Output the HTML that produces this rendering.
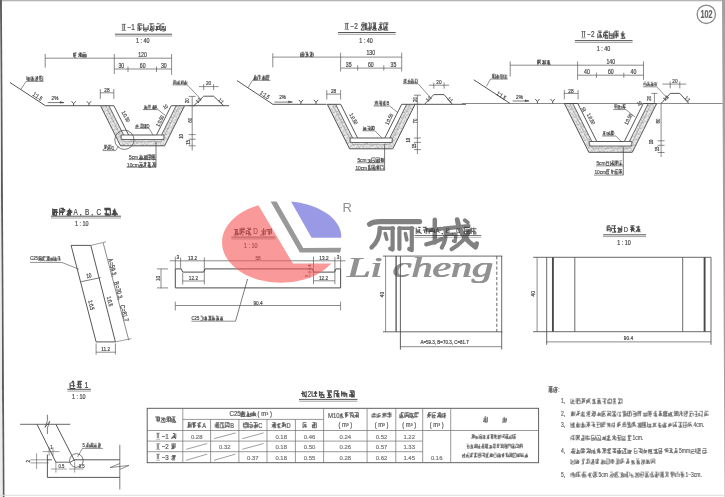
<!DOCTYPE html>
<html><head><meta charset="utf-8"><title>drawing</title>
<style>html,body{margin:0;padding:0;background:#fff;}body{width:725px;height:497px;overflow:hidden;font-family:"Liberation Sans",sans-serif;}svg{display:block}</style>
</head><body>
<svg width="725" height="497" viewBox="0 0 725 497">
<defs>
<pattern id="tex" width="6" height="6" patternUnits="userSpaceOnUse" patternTransform="rotate(20)">
<rect width="6" height="6" fill="#e8e8e8"/>
<path d="M0.5 1 L2.2 2 M3.2 3.8 L5 3 M1 4.6 L2.4 5.4 M4.2 0.4 L5.4 1.6 M2.6 2.8 L3 3.6" stroke="#777" stroke-width="0.7"/>
</pattern>
<filter id="soft" x="-2%" y="-2%" width="104%" height="104%"><feGaussianBlur stdDeviation="0.62"/></filter>
</defs>
<rect x="0" y="0" width="725" height="497" fill="#fff"/>
<rect x="0" y="0" width="725" height="1.3" fill="#b4b4b4"/>
<path d="M0 0 L1.9 0 L4.5 497 L2.6 497 Z" fill="#5c5c5c"/><path d="M0 6 L2.6 497 L0 497 Z" fill="#ececec"/>
<path d="M722 0 L725 0 L725 200 L726 497 L724.6 497 Z" fill="#a0a0a0"/>
<rect x="0" y="494.8" width="725" height="1.0" fill="#dcdcdc"/>
<g filter="url(#soft)">
<circle cx="706.3" cy="14.3" r="9.2" fill="none" stroke="#8a8a8a" stroke-width="1.3"/>
<text transform="translate(706.4 14.3) scale(0.7 1)" font-size="10.24" fill="#666" text-anchor="middle" dominant-baseline="central" font-family="'Liberation Sans', sans-serif" font-weight="bold" font-style="normal" stroke="#666" stroke-width="0.22" >102</text>
<text transform="translate(122.0 27.4) scale(0.78 1)" font-size="8.19" fill="#484848" text-anchor="start" dominant-baseline="central" font-family="'Liberation Sans', sans-serif" font-weight="normal" font-style="normal" stroke="#484848" stroke-width="0.22" >II</text>
<line x1="121.6" y1="24.3" x2="126.0" y2="24.3" stroke="#484848" stroke-width="0.55" />
<line x1="121.6" y1="30.5" x2="126.0" y2="30.5" stroke="#484848" stroke-width="0.55" />
<text transform="translate(127.6 27.4) scale(0.78 1)" font-size="8.19" fill="#484848" text-anchor="start" dominant-baseline="central" font-family="'Liberation Sans', sans-serif" font-weight="normal" font-style="normal" stroke="#484848" stroke-width="0.22" >−1</text>
<path d="M138.0 23.8H141.8M138.0 25.2H142.5M138.0 28.1H142.5M139.6 29.6H141.4M139.5 26.0V31.0M138.0 23.8V31.0M143.7 28.1H148.2M143.7 29.6H148.2M144.4 31.0H147.1M148.2 25.2V29.9M143.7 23.8V31.0M149.4 23.8H153.9M151.0 26.7H152.8M150.1 29.6H152.8M151.0 31.0H153.2M150.9 23.8V31.0M153.9 25.2V29.9M151.7 26.7L149.4 31.0M151.7 26.7L153.9 31.0M156.7 23.8H159.6M155.8 26.7H159.6M156.7 28.1H158.5M155.1 29.6H159.6M159.6 25.2V29.9M157.3 26.0V29.9M156.6 26.0V31.0M161.5 23.8H164.2M161.5 26.7H164.2M161.5 29.6H165.3M162.4 31.0H164.6M165.3 26.0V31.0M160.8 23.8V31.0M163.1 26.7L160.8 31.0M163.1 26.7L165.3 31.0" stroke="#4a4a4a" stroke-width="0.94" fill="none"/>
<line x1="114.9" y1="34.2" x2="172.0" y2="34.2" stroke="#444444" stroke-width="0.9" />
<line x1="114.9" y1="36.0" x2="172.0" y2="36.0" stroke="#444444" stroke-width="0.5" />
<text transform="translate(142.8 39.8) scale(0.78 1)" font-size="6.91" fill="#484848" text-anchor="middle" dominant-baseline="central" font-family="'Liberation Sans', sans-serif" font-weight="normal" font-style="normal" stroke="#484848" stroke-width="0.22" >1 : 40</text>
<line x1="45.2" y1="58.2" x2="171.6" y2="58.2" stroke="#5a5a5a" stroke-width="0.7" />
<line x1="45.2" y1="54.0" x2="45.2" y2="67.7" stroke="#5a5a5a" stroke-width="0.7" />
<line x1="114.3" y1="54.0" x2="114.3" y2="74.0" stroke="#5a5a5a" stroke-width="0.7" />
<line x1="171.6" y1="54.0" x2="171.6" y2="75.0" stroke="#5a5a5a" stroke-width="0.7" />
<line x1="114.3" y1="69.0" x2="171.6" y2="69.0" stroke="#5a5a5a" stroke-width="0.7" />
<line x1="128.0" y1="66.5" x2="128.0" y2="72.0" stroke="#5a5a5a" stroke-width="0.7" />
<line x1="156.5" y1="66.5" x2="156.5" y2="72.0" stroke="#5a5a5a" stroke-width="0.7" />
<text transform="translate(142.5 54.6) scale(0.78 1)" font-size="6.66" fill="#484848" text-anchor="middle" dominant-baseline="central" font-family="'Liberation Sans', sans-serif" font-weight="normal" font-style="normal" stroke="#484848" stroke-width="0.22" >120</text>
<text transform="translate(121.3 65.6) scale(0.78 1)" font-size="6.66" fill="#484848" text-anchor="middle" dominant-baseline="central" font-family="'Liberation Sans', sans-serif" font-weight="normal" font-style="normal" stroke="#484848" stroke-width="0.22" >30</text>
<text transform="translate(142.7 65.6) scale(0.78 1)" font-size="6.66" fill="#484848" text-anchor="middle" dominant-baseline="central" font-family="'Liberation Sans', sans-serif" font-weight="normal" font-style="normal" stroke="#484848" stroke-width="0.22" >60</text>
<text transform="translate(163.8 65.6) scale(0.78 1)" font-size="6.66" fill="#484848" text-anchor="middle" dominant-baseline="central" font-family="'Liberation Sans', sans-serif" font-weight="normal" font-style="normal" stroke="#484848" stroke-width="0.22" >30</text>
<path d="M74.7 52.8H76.6M73.5 53.7H76.2M74.0 55.4H76.2M74.0 57.2H76.2M74.7 52.8V57.2M73.5 52.8V56.5M75.3 54.6L73.5 57.2M79.3 52.8H81.2M78.6 53.7H81.7M78.1 54.6H80.8M79.3 55.4H80.8M79.3 56.3H80.8M80.5 52.8V57.2M81.7 52.8V57.2M79.9 54.6L78.1 57.2M79.9 54.6L81.7 57.2M82.7 52.8H85.8M82.7 54.6H86.3M82.7 55.4H85.4M82.7 56.3H85.8M83.2 57.2H85.8M82.7 54.1V57.2M86.3 54.1V57.2M84.5 54.6L82.7 57.2M84.5 54.6L86.3 57.2" stroke="#4a4a4a" stroke-width="0.76" fill="none"/>
<path d="M10.0 82.5 L45.4 105.7 L100.5 105.7" stroke="#444444" stroke-width="0.9" fill="none" />
<line x1="184.6" y1="105.7" x2="229.0" y2="105.7" stroke="#444444" stroke-width="0.9" />
<path d="M26.8 77.8H30.2M26.8 78.8H29.7M26.8 79.7H30.2M27.3 80.6H30.2M28.5 76.9V80.6M30.2 76.9V79.9M26.8 76.0V79.9M31.0 76.9H33.5M31.5 78.8H34.4M31.0 80.6H33.9M32.7 76.9V80.6M32.1 76.9V80.6M32.7 77.8L31.0 80.6M32.7 77.8L34.4 80.6M35.2 76.9H37.7M35.7 77.8H38.6M35.2 78.8H37.7M35.2 80.6H37.7M37.5 76.0V79.9M36.9 77.4V80.6M36.9 77.8L35.2 80.6M39.4 76.0H41.9M39.4 76.9H41.9M39.9 80.6H42.8M42.8 76.0V79.9M40.5 76.0V79.9M39.4 76.0V80.6M41.1 77.8L42.8 80.6" stroke="#4a4a4a" stroke-width="0.69" fill="none"/>
<line x1="26.0" y1="81.4" x2="43.6" y2="81.4" stroke="#444444" stroke-width="0.6" />
<line x1="26.0" y1="81.4" x2="20.9" y2="89.5" stroke="#444444" stroke-width="0.6" />
<text transform="translate(37.6 96.2) rotate(34) scale(0.78 1)" font-size="5.89" fill="#484848" text-anchor="middle" dominant-baseline="central" font-family="'Liberation Sans', sans-serif" font-weight="normal" font-style="normal" stroke="#484848" stroke-width="0.22" >1:1.5</text>
<text transform="translate(55.0 97.6) scale(0.78 1)" font-size="6.14" fill="#484848" text-anchor="middle" dominant-baseline="central" font-family="'Liberation Sans', sans-serif" font-weight="normal" font-style="normal" stroke="#484848" stroke-width="0.22" >2%</text>
<line x1="47.7" y1="102.6" x2="64.0" y2="102.6" stroke="#444444" stroke-width="0.7" />
<path d="M64.0 102.6 L60.0 101.4 L60.0 103.2 Z" stroke="#444444" stroke-width="0.3" fill="#444444" />
<path d="M71.5 101.3 L73.6 103.7 L75.7 101.3" stroke="#444444" stroke-width="0.9" fill="none" />
<line x1="73.6" y1="103.7" x2="73.6" y2="105.7" stroke="#444444" stroke-width="0.9" />
<path d="M86.9 101.3 L89.0 103.7 L91.1 101.3" stroke="#444444" stroke-width="0.9" fill="none" />
<line x1="89.0" y1="103.7" x2="89.0" y2="105.7" stroke="#444444" stroke-width="0.9" />
<line x1="100.0" y1="92.8" x2="113.8" y2="92.8" stroke="#5a5a5a" stroke-width="0.7" />
<line x1="100.3" y1="89.0" x2="100.3" y2="99.0" stroke="#5a5a5a" stroke-width="0.7" />
<line x1="113.8" y1="89.0" x2="113.8" y2="99.0" stroke="#5a5a5a" stroke-width="0.7" />
<text transform="translate(106.9 89.6) scale(0.78 1)" font-size="6.14" fill="#484848" text-anchor="middle" dominant-baseline="central" font-family="'Liberation Sans', sans-serif" font-weight="normal" font-style="normal" stroke="#484848" stroke-width="0.22" >28</text>
<path d="M100.5 105.7 L120.5 145.8 L164.6 145.8 L184.6 105.7 L176.2 105.7 L161.5 135.0 L164.0 135.0 L164.0 139.5 L121.1 139.5 L121.1 135.0 L123.6 135.0 L108.9 105.7 Z" fill="url(#tex)" stroke="none"/>
<path d="M113.9 105.7 L128.6 135.0 L156.5 135.0 L171.2 105.7" stroke="#444444" stroke-width="0.9" fill="none" />
<path d="M108.9 105.7 L123.6 135.0" stroke="#444444" stroke-width="0.8" fill="none" />
<path d="M176.2 105.7 L161.5 135.0" stroke="#444444" stroke-width="0.8" fill="none" />
<path d="M121.1 135.0 L128.6 135.0" stroke="#444444" stroke-width="0.8" fill="none" />
<path d="M156.5 135.0 L164.0 135.0" stroke="#444444" stroke-width="0.8" fill="none" />
<path d="M121.1 135.0 L121.1 139.5 L164.0 139.5 L164.0 135.0" stroke="#444444" stroke-width="0.8" fill="none" />
<path d="M105.7 105.7 L123.7 141.6 L161.4 141.6 L179.4 105.7" stroke="#8a8a8a" stroke-width="0.5" fill="none" />
<line x1="100.5" y1="105.7" x2="113.9" y2="105.7" stroke="#444444" stroke-width="0.9" />
<line x1="171.2" y1="105.7" x2="184.6" y2="105.7" stroke="#444444" stroke-width="0.9" />
<path d="M100.5 105.7 L120.5 145.8 L164.6 145.8 L184.6 105.7" stroke="#444444" stroke-width="0.9" fill="none" />
<circle cx="124.4" cy="139.8" r="9.6" fill="none" stroke="#444" stroke-width="0.7"/>
<line x1="118.6" y1="146.2" x2="115.6" y2="150.6" stroke="#444444" stroke-width="0.6" />
<line x1="102.5" y1="150.6" x2="115.6" y2="150.6" stroke="#444444" stroke-width="0.6" />
<path d="M104.0 145.2H107.0M104.0 146.1H106.4M104.7 147.1H107.0M105.2 146.6V149.3M105.8 145.2V149.3M105.2 147.1L103.4 150.0M107.8 145.2H111.4M109.1 146.1H111.4M107.8 148.1H110.8M109.1 149.1H111.4M107.8 146.1V150.0M109.0 145.2V149.3M111.4 146.6V149.3M109.6 147.1L107.8 150.0" stroke="#4a4a4a" stroke-width="0.73" fill="none"/>
<text transform="translate(113.0 147.6) scale(0.78 1)" font-size="5.89" fill="#484848" text-anchor="middle" dominant-baseline="central" font-family="'Liberation Sans', sans-serif" font-weight="normal" font-style="normal" stroke="#484848" stroke-width="0.22" >1</text>
<path d="M144.4 106.1H146.3M145.0 107.0H147.1M144.4 107.8H147.1M145.0 105.2V109.6M146.0 106.5V109.6M145.5 107.0L143.9 109.6M145.5 107.0L147.1 109.6M147.9 105.2H150.6M147.9 106.1H150.6M147.9 107.0H150.3M147.9 106.5V109.6M150.0 105.2V109.6M152.4 106.1H155.1M152.4 107.0H155.1M152.4 107.8H154.3M153.0 108.7H155.1M153.5 105.2V109.6M155.1 105.2V109.6M153.5 107.0L151.9 109.6M153.5 107.0L155.1 109.6" stroke="#4a4a4a" stroke-width="0.66" fill="none"/>
<text transform="translate(156.0 107.4) scale(0.78 1)" font-size="5.38" fill="#484848" text-anchor="middle" dominant-baseline="central" font-family="'Liberation Sans', sans-serif" font-weight="normal" font-style="normal" stroke="#484848" stroke-width="0.22" >A</text>
<line x1="143.0" y1="109.6" x2="158.0" y2="109.6" stroke="#444444" stroke-width="0.6" />
<line x1="158.0" y1="109.6" x2="165.5" y2="115.6" stroke="#444444" stroke-width="0.6" />
<path d="M136.4 124.9H138.3M135.9 125.8H138.3M136.4 126.6H139.1M135.9 125.3V128.4M137.0 124.9V128.4M140.4 124.0H143.1M141.0 124.9H143.1M140.4 127.5H142.3M143.1 124.0V127.7M141.0 124.0V128.4M141.5 125.8L143.1 128.4M143.9 124.9H146.6M145.0 125.8H147.1M144.4 127.5H146.6M145.5 124.0V128.4M143.9 124.0V127.7M145.5 125.8L143.9 128.4" stroke="#4a4a4a" stroke-width="0.66" fill="none"/>
<text transform="translate(148.0 126.2) scale(0.78 1)" font-size="5.38" fill="#484848" text-anchor="middle" dominant-baseline="central" font-family="'Liberation Sans', sans-serif" font-weight="normal" font-style="normal" stroke="#484848" stroke-width="0.22" >D</text>
<line x1="135.0" y1="128.3" x2="149.0" y2="128.3" stroke="#444444" stroke-width="0.6" />
<line x1="149.0" y1="128.3" x2="153.0" y2="135.0" stroke="#444444" stroke-width="0.6" />
<text transform="translate(125.6 116.6) rotate(63) scale(0.78 1)" font-size="5.38" fill="#484848" text-anchor="middle" dominant-baseline="central" font-family="'Liberation Sans', sans-serif" font-weight="normal" font-style="normal" stroke="#484848" stroke-width="0.22" >1:0.50</text>
<text transform="translate(160.2 121.0) rotate(-63) scale(0.78 1)" font-size="5.38" fill="#484848" text-anchor="middle" dominant-baseline="central" font-family="'Liberation Sans', sans-serif" font-weight="normal" font-style="normal" stroke="#484848" stroke-width="0.22" >1:0.50</text>
<text transform="translate(165.6 107.0) rotate(-27) scale(0.78 1)" font-size="5.38" fill="#484848" text-anchor="middle" dominant-baseline="central" font-family="'Liberation Sans', sans-serif" font-weight="normal" font-style="normal" stroke="#484848" stroke-width="0.22" >10</text>
<line x1="156.0" y1="141.5" x2="156.0" y2="167.3" stroke="#444444" stroke-width="0.7" />
<text transform="translate(129.0 157.2) scale(0.78 1)" font-size="6.14" fill="#484848" text-anchor="start" dominant-baseline="central" font-family="'Liberation Sans', sans-serif" font-weight="normal" font-style="normal" stroke="#484848" stroke-width="0.22" >5cm</text>
<path d="M140.1 157.7H141.9M138.9 158.6H142.4M139.4 159.6H142.4M140.1 154.8V159.6M141.2 154.8V159.6M142.4 155.8V159.6M140.7 156.7L138.9 159.6M140.7 156.7L142.4 159.6M143.7 155.8H146.7M144.4 156.7H146.7M143.2 158.6H146.2M144.4 159.6H146.7M145.0 155.8V159.6M146.7 154.8V159.6M145.0 156.7L143.2 159.6M145.0 156.7L146.7 159.6M147.5 154.8H151.0M147.5 155.8H151.0M148.0 157.7H151.0M147.5 159.6H150.1M147.5 155.8V159.6M149.8 154.8V159.6M151.0 154.8V158.9M151.8 154.8H155.3M153.0 155.8H155.3M151.8 156.7H155.3M151.8 157.7H155.3M151.8 159.6H155.3M153.6 156.3V158.9M151.8 154.8V158.9M153.0 154.8V158.9M153.6 156.7L155.3 159.6" stroke="#4a4a4a" stroke-width="0.71" fill="none"/>
<line x1="128.6" y1="159.6" x2="156.0" y2="159.6" stroke="#444444" stroke-width="0.6" />
<text transform="translate(127.0 164.8) scale(0.78 1)" font-size="6.14" fill="#484848" text-anchor="start" dominant-baseline="central" font-family="'Liberation Sans', sans-serif" font-weight="normal" font-style="normal" stroke="#484848" stroke-width="0.22" >10cm</text>
<path d="M138.9 162.4H142.4M140.1 164.3H141.9M138.9 165.3H141.9M138.9 167.2H142.4M141.2 163.9V167.2M142.4 163.9V166.5M140.7 164.3L138.9 167.2M140.7 164.3L142.4 167.2M143.7 162.4H146.2M143.7 163.4H146.7M143.2 166.2H145.8M145.5 162.4V166.5M145.0 162.4V166.5M145.0 164.3L143.2 167.2M147.5 162.4H150.5M147.5 165.3H150.1M147.5 166.2H150.5M148.7 167.2H151.0M149.8 162.4V167.2M149.2 162.4V166.5M148.7 162.4V167.2M149.2 164.3L151.0 167.2M152.3 162.4H155.3M153.0 163.4H154.4M153.0 164.3H155.3M151.8 166.2H155.3M154.1 163.4V166.5M155.3 162.4V167.2M153.6 164.3L151.8 167.2M153.6 164.3L155.3 167.2" stroke="#4a4a4a" stroke-width="0.71" fill="none"/>
<line x1="126.5" y1="167.3" x2="156.0" y2="167.3" stroke="#444444" stroke-width="0.6" />
<line x1="192.2" y1="96.4" x2="192.2" y2="150.6" stroke="#5a5a5a" stroke-width="0.7" />
<line x1="188.7" y1="96.4" x2="195.7" y2="96.4" stroke="#5a5a5a" stroke-width="0.7" />
<line x1="188.7" y1="105.7" x2="195.7" y2="105.7" stroke="#5a5a5a" stroke-width="0.7" />
<line x1="188.7" y1="134.6" x2="195.7" y2="134.6" stroke="#5a5a5a" stroke-width="0.7" />
<line x1="188.7" y1="139.2" x2="195.7" y2="139.2" stroke="#5a5a5a" stroke-width="0.7" />
<line x1="188.7" y1="145.8" x2="195.7" y2="145.8" stroke="#5a5a5a" stroke-width="0.7" />
<text transform="translate(187.2 100.8) rotate(-90) scale(0.78 1)" font-size="5.63" fill="#484848" text-anchor="middle" dominant-baseline="central" font-family="'Liberation Sans', sans-serif" font-weight="normal" font-style="normal" stroke="#484848" stroke-width="0.22" >20</text>
<text transform="translate(189.4 120.2) rotate(-90) scale(0.78 1)" font-size="5.63" fill="#484848" text-anchor="middle" dominant-baseline="central" font-family="'Liberation Sans', sans-serif" font-weight="normal" font-style="normal" stroke="#484848" stroke-width="0.22" >60</text>
<text transform="translate(181.6 136.4) rotate(-90) scale(0.78 1)" font-size="5.38" fill="#484848" text-anchor="middle" dominant-baseline="central" font-family="'Liberation Sans', sans-serif" font-weight="normal" font-style="normal" stroke="#484848" stroke-width="0.22" >10</text>
<text transform="translate(188.6 142.4) rotate(-90) scale(0.78 1)" font-size="5.38" fill="#484848" text-anchor="middle" dominant-baseline="central" font-family="'Liberation Sans', sans-serif" font-weight="normal" font-style="normal" stroke="#484848" stroke-width="0.22" >15</text>
<path d="M193.8 105.7 L203.7 96.2 L213.6 96.2 L223.6 105.7" stroke="#444444" stroke-width="0.9" fill="none" />
<line x1="199.0" y1="86.6" x2="218.5" y2="86.6" stroke="#5a5a5a" stroke-width="0.7" />
<line x1="203.7" y1="84.0" x2="203.7" y2="90.0" stroke="#5a5a5a" stroke-width="0.7" />
<line x1="213.6" y1="84.0" x2="213.6" y2="90.0" stroke="#5a5a5a" stroke-width="0.7" />
<text transform="translate(208.6 83.2) scale(0.78 1)" font-size="6.14" fill="#484848" text-anchor="middle" dominant-baseline="central" font-family="'Liberation Sans', sans-serif" font-weight="normal" font-style="normal" stroke="#484848" stroke-width="0.22" >20</text>
<path d="M173.4 80.4H176.2M173.4 81.2H175.8M173.8 82.0H175.8M173.4 83.6H175.5M176.2 81.2V84.4M173.4 81.2V84.4M174.8 82.0L173.4 84.4M174.8 82.0L176.2 84.4M178.0 81.2H179.4M177.0 82.8H179.4M178.0 83.6H179.8M178.0 84.4H179.8M177.0 81.6V84.4M179.8 80.4V83.8M178.4 81.2V84.4M178.4 82.0L177.0 84.4M181.0 81.2H183.0M181.0 82.8H183.0M181.0 83.6H182.7M181.5 81.6V84.4M182.0 80.4V83.8M183.4 80.4V84.4M182.0 82.0L180.6 84.4M185.2 81.2H186.3M184.2 82.8H187.0M184.2 83.6H187.0M184.2 84.4H186.6M184.2 81.2V84.4M185.6 80.4V84.4M187.0 81.6V84.4M185.6 82.0L184.2 84.4" stroke="#4a4a4a" stroke-width="0.59" fill="none"/>
<line x1="172.6" y1="84.9" x2="187.3" y2="84.9" stroke="#444444" stroke-width="0.6" />
<line x1="187.3" y1="84.9" x2="200.4" y2="98.8" stroke="#444444" stroke-width="0.6" />
<text transform="translate(198.4 100.2) rotate(-45) scale(0.78 1)" font-size="4.86" fill="#484848" text-anchor="middle" dominant-baseline="central" font-family="'Liberation Sans', sans-serif" font-weight="normal" font-style="normal" stroke="#484848" stroke-width="0.22" >1:1</text>
<text transform="translate(221.0 101.0) rotate(45) scale(0.78 1)" font-size="4.86" fill="#484848" text-anchor="middle" dominant-baseline="central" font-family="'Liberation Sans', sans-serif" font-weight="normal" font-style="normal" stroke="#484848" stroke-width="0.22" >1:1</text>
<text transform="translate(345.0 26.5) scale(0.78 1)" font-size="8.19" fill="#484848" text-anchor="start" dominant-baseline="central" font-family="'Liberation Sans', sans-serif" font-weight="normal" font-style="normal" stroke="#484848" stroke-width="0.22" >II</text>
<line x1="344.6" y1="23.4" x2="349.0" y2="23.4" stroke="#484848" stroke-width="0.55" />
<line x1="344.6" y1="29.6" x2="349.0" y2="29.6" stroke="#484848" stroke-width="0.55" />
<text transform="translate(350.6 26.5) scale(0.78 1)" font-size="8.19" fill="#484848" text-anchor="start" dominant-baseline="central" font-family="'Liberation Sans', sans-serif" font-weight="normal" font-style="normal" stroke="#484848" stroke-width="0.22" >−2</text>
<path d="M361.7 22.9H364.8M361.0 24.3H365.5M361.0 25.8H364.8M361.0 30.1H364.4M364.0 24.3V30.1M365.5 22.9V30.1M363.2 25.8L361.0 30.1M368.3 22.9H370.1M368.3 27.2H371.2M366.7 28.7H371.2M366.7 30.1H371.2M366.7 22.9V30.1M369.7 22.9V30.1M371.2 22.9V29.0M372.4 22.9H376.2M372.4 27.2H375.8M373.1 28.7H376.9M372.4 30.1H376.9M374.6 24.3V29.0M375.4 22.9V30.1M373.9 22.9V29.0M374.6 25.8L372.4 30.1M379.7 22.9H382.6M378.8 24.3H382.6M379.7 27.2H381.9M378.1 30.1H381.5M380.4 24.3V29.0M381.1 25.1V30.1M380.4 25.8L378.1 30.1M380.4 25.8L382.6 30.1M383.8 22.9H388.3M385.4 24.3H388.3M384.5 27.2H387.6M383.8 28.7H387.2M383.8 30.1H388.3M386.8 22.9V30.1M383.8 22.9V30.1M386.0 25.8L383.8 30.1" stroke="#4a4a4a" stroke-width="0.94" fill="none"/>
<line x1="338.0" y1="32.5" x2="395.7" y2="32.5" stroke="#444444" stroke-width="0.9" />
<line x1="338.0" y1="34.3" x2="395.7" y2="34.3" stroke="#444444" stroke-width="0.5" />
<text transform="translate(366.0 40.3) scale(0.78 1)" font-size="6.91" fill="#484848" text-anchor="middle" dominant-baseline="central" font-family="'Liberation Sans', sans-serif" font-weight="normal" font-style="normal" stroke="#484848" stroke-width="0.22" >1 : 40</text>
<line x1="272.8" y1="57.1" x2="401.7" y2="57.1" stroke="#5a5a5a" stroke-width="0.7" />
<line x1="272.8" y1="53.2" x2="272.8" y2="67.4" stroke="#5a5a5a" stroke-width="0.7" />
<line x1="340.6" y1="52.6" x2="340.6" y2="71.5" stroke="#5a5a5a" stroke-width="0.7" />
<line x1="401.7" y1="52.6" x2="401.7" y2="71.5" stroke="#5a5a5a" stroke-width="0.7" />
<line x1="340.6" y1="68.1" x2="401.7" y2="68.1" stroke="#5a5a5a" stroke-width="0.7" />
<line x1="357.7" y1="65.2" x2="357.7" y2="70.6" stroke="#5a5a5a" stroke-width="0.7" />
<line x1="383.8" y1="65.2" x2="383.8" y2="70.6" stroke="#5a5a5a" stroke-width="0.7" />
<text transform="translate(370.8 53.2) scale(0.78 1)" font-size="6.66" fill="#484848" text-anchor="middle" dominant-baseline="central" font-family="'Liberation Sans', sans-serif" font-weight="normal" font-style="normal" stroke="#484848" stroke-width="0.22" >130</text>
<text transform="translate(348.7 64.4) scale(0.78 1)" font-size="6.66" fill="#484848" text-anchor="middle" dominant-baseline="central" font-family="'Liberation Sans', sans-serif" font-weight="normal" font-style="normal" stroke="#484848" stroke-width="0.22" >35</text>
<text transform="translate(370.8 64.4) scale(0.78 1)" font-size="6.66" fill="#484848" text-anchor="middle" dominant-baseline="central" font-family="'Liberation Sans', sans-serif" font-weight="normal" font-style="normal" stroke="#484848" stroke-width="0.22" >60</text>
<text transform="translate(393.4 64.4) scale(0.78 1)" font-size="6.66" fill="#484848" text-anchor="middle" dominant-baseline="central" font-family="'Liberation Sans', sans-serif" font-weight="normal" font-style="normal" stroke="#484848" stroke-width="0.22" >35</text>
<path d="M301.7 52.2H303.6M300.5 53.1H304.1M300.5 54.8H303.6M300.5 56.6H304.1M304.1 53.1V55.9M302.9 53.5V56.6M300.5 53.1V56.6M302.3 54.0L300.5 56.6M302.3 54.0L304.1 56.6M305.1 52.2H307.8M305.6 54.0H308.2M306.3 54.8H308.7M305.1 56.6H307.8M306.9 52.2V56.6M307.5 53.1V55.9M306.9 54.0L308.7 56.6M309.7 52.2H312.4M309.7 53.1H313.3M310.2 54.8H313.3M309.7 56.6H312.8M311.5 52.2V56.6M313.3 53.1V56.6M311.5 54.0L309.7 56.6" stroke="#4a4a4a" stroke-width="0.76" fill="none"/>
<path d="M237.0 80.6 L272.9 104.3 L326.6 104.3" stroke="#444444" stroke-width="0.9" fill="none" />
<line x1="415.2" y1="104.3" x2="466.0" y2="104.3" stroke="#444444" stroke-width="0.9" />
<path d="M254.5 75.3H255.9M254.5 77.1H256.3M254.5 78.1H255.9M253.3 79.0H255.9M253.3 79.9H256.8M255.1 75.3V79.9M254.5 76.2V79.9M256.8 76.2V79.2M255.1 77.1L253.3 79.9M255.1 77.1L256.8 79.9M257.6 75.3H260.2M258.1 76.2H261.1M258.8 78.1H261.1M259.4 75.3V79.9M257.6 76.7V79.9M263.1 76.2H265.4M261.9 78.1H264.9M262.4 79.9H264.9M263.6 76.2V79.9M265.4 76.7V79.9M263.1 75.3V79.9M263.6 77.1L261.9 79.9M263.6 77.1L265.4 79.9M266.2 75.3H269.7M266.2 76.2H268.8M266.2 77.1H269.7M266.2 79.0H268.8M266.2 79.9H268.8M266.2 75.3V79.9M268.0 75.3V79.9" stroke="#4a4a4a" stroke-width="0.71" fill="none"/>
<line x1="252.5" y1="80.3" x2="270.6" y2="80.3" stroke="#444444" stroke-width="0.6" />
<line x1="252.5" y1="80.3" x2="248.1" y2="87.5" stroke="#444444" stroke-width="0.6" />
<text transform="translate(265.0 94.8) rotate(34) scale(0.78 1)" font-size="5.89" fill="#484848" text-anchor="middle" dominant-baseline="central" font-family="'Liberation Sans', sans-serif" font-weight="normal" font-style="normal" stroke="#484848" stroke-width="0.22" >1:1.5</text>
<text transform="translate(282.6 97.2) scale(0.78 1)" font-size="6.14" fill="#484848" text-anchor="middle" dominant-baseline="central" font-family="'Liberation Sans', sans-serif" font-weight="normal" font-style="normal" stroke="#484848" stroke-width="0.22" >2%</text>
<line x1="274.4" y1="102.1" x2="292.4" y2="102.1" stroke="#444444" stroke-width="0.7" />
<path d="M292.4 102.1 L288.4 100.9 L288.4 102.7 Z" stroke="#444444" stroke-width="0.3" fill="#444444" />
<path d="M298.8 99.9 L300.9 102.3 L303.0 99.9" stroke="#444444" stroke-width="0.9" fill="none" />
<line x1="300.9" y1="102.3" x2="300.9" y2="104.3" stroke="#444444" stroke-width="0.9" />
<path d="M313.9 99.9 L316.0 102.3 L318.1 99.9" stroke="#444444" stroke-width="0.9" fill="none" />
<line x1="316.0" y1="102.3" x2="316.0" y2="104.3" stroke="#444444" stroke-width="0.9" />
<line x1="326.4" y1="94.1" x2="340.6" y2="94.1" stroke="#5a5a5a" stroke-width="0.7" />
<line x1="326.8" y1="90.0" x2="326.8" y2="99.5" stroke="#5a5a5a" stroke-width="0.7" />
<line x1="340.6" y1="90.0" x2="340.6" y2="99.5" stroke="#5a5a5a" stroke-width="0.7" />
<text transform="translate(333.6 90.8) scale(0.78 1)" font-size="6.14" fill="#484848" text-anchor="middle" dominant-baseline="central" font-family="'Liberation Sans', sans-serif" font-weight="normal" font-style="normal" stroke="#484848" stroke-width="0.22" >28</text>
<path d="M327.3 104.3 L349.6 148.8 L392.8 148.8 L415.1 104.3 L406.7 104.3 L389.8 138.0 L392.3 138.0 L392.3 142.5 L350.1 142.5 L350.1 138.0 L352.6 138.0 L335.7 104.3 Z" fill="url(#tex)" stroke="none"/>
<path d="M340.7 104.3 L357.6 138.0 L384.8 138.0 L401.7 104.3" stroke="#444444" stroke-width="0.9" fill="none" />
<path d="M335.7 104.3 L352.6 138.0" stroke="#444444" stroke-width="0.8" fill="none" />
<path d="M406.7 104.3 L389.8 138.0" stroke="#444444" stroke-width="0.8" fill="none" />
<path d="M350.1 138.0 L357.6 138.0" stroke="#444444" stroke-width="0.8" fill="none" />
<path d="M384.8 138.0 L392.3 138.0" stroke="#444444" stroke-width="0.8" fill="none" />
<path d="M350.1 138.0 L350.1 142.5 L392.3 142.5 L392.3 138.0" stroke="#444444" stroke-width="0.8" fill="none" />
<path d="M332.5 104.3 L352.6 144.6 L389.8 144.6 L409.9 104.3" stroke="#8a8a8a" stroke-width="0.5" fill="none" />
<line x1="327.3" y1="104.3" x2="340.7" y2="104.3" stroke="#444444" stroke-width="0.9" />
<line x1="401.7" y1="104.3" x2="415.1" y2="104.3" stroke="#444444" stroke-width="0.9" />
<path d="M327.3 104.3 L349.6 148.8 L392.8 148.8 L415.1 104.3" stroke="#444444" stroke-width="0.9" fill="none" />
<path d="M375.6 101.1H377.2M374.4 102.0H377.7M374.9 102.9H377.7M376.1 101.1V105.7M377.7 101.1V105.7M376.1 102.9L374.4 105.7M379.0 101.1H381.8M379.0 102.9H381.8M378.5 103.9H381.8M381.8 101.1V105.7M380.7 101.1V105.7M380.2 102.9L381.8 105.7M383.8 101.1H385.4M383.1 102.0H385.1M382.6 102.9H385.4M383.1 103.9H385.1M383.8 104.8H385.9M383.7 102.5V105.7M384.8 101.1V105.7" stroke="#4a4a4a" stroke-width="0.68" fill="none"/>
<text transform="translate(388.0 103.4) scale(0.78 1)" font-size="5.38" fill="#484848" text-anchor="middle" dominant-baseline="central" font-family="'Liberation Sans', sans-serif" font-weight="normal" font-style="normal" stroke="#484848" stroke-width="0.22" >B</text>
<line x1="373.7" y1="106.0" x2="389.6" y2="106.0" stroke="#444444" stroke-width="0.6" />
<line x1="389.6" y1="106.0" x2="398.0" y2="112.8" stroke="#444444" stroke-width="0.6" />
<path d="M364.4 128.0H366.4M363.4 128.8H366.4M363.4 129.7H366.4M365.4 127.1V129.9M363.4 126.3V130.5M364.9 127.1V130.5M364.9 128.0L363.4 130.5M364.9 128.0L366.4 130.5M367.2 126.3H369.8M367.2 128.8H370.2M368.2 129.7H369.8M370.2 126.3V129.9M369.2 126.3V129.9M368.7 128.0L370.2 130.5M371.0 126.3H374.0M372.0 127.1H374.0M372.0 128.8H373.6M371.0 129.7H374.0M372.0 126.3V129.9M371.0 127.1V130.5M372.5 128.0L371.0 130.5" stroke="#4a4a4a" stroke-width="0.63" fill="none"/>
<text transform="translate(373.6 128.4) scale(0.78 1)" font-size="5.12" fill="#484848" text-anchor="middle" dominant-baseline="central" font-family="'Liberation Sans', sans-serif" font-weight="normal" font-style="normal" stroke="#484848" stroke-width="0.22" >D</text>
<line x1="362.6" y1="130.8" x2="375.0" y2="130.8" stroke="#444444" stroke-width="0.6" />
<line x1="375.0" y1="130.8" x2="382.0" y2="138.0" stroke="#444444" stroke-width="0.6" />
<text transform="translate(353.4 119.0) rotate(63) scale(0.78 1)" font-size="5.38" fill="#484848" text-anchor="middle" dominant-baseline="central" font-family="'Liberation Sans', sans-serif" font-weight="normal" font-style="normal" stroke="#484848" stroke-width="0.22" >1:0.50</text>
<text transform="translate(389.3 119.4) rotate(-63) scale(0.78 1)" font-size="5.38" fill="#484848" text-anchor="middle" dominant-baseline="central" font-family="'Liberation Sans', sans-serif" font-weight="normal" font-style="normal" stroke="#484848" stroke-width="0.22" >1:0.50</text>
<line x1="384.6" y1="144.2" x2="384.6" y2="170.3" stroke="#444444" stroke-width="0.7" />
<text transform="translate(357.4 160.2) scale(0.78 1)" font-size="6.14" fill="#484848" text-anchor="start" dominant-baseline="central" font-family="'Liberation Sans', sans-serif" font-weight="normal" font-style="normal" stroke="#484848" stroke-width="0.22" >5cm</text>
<path d="M367.4 159.7H370.0M368.6 160.7H370.4M368.6 161.6H370.0M367.4 162.6H370.9M370.9 159.3V162.6M369.7 159.3V161.9M371.7 157.8H375.2M372.2 160.7H374.3M372.2 162.6H375.2M375.2 157.8V161.9M371.7 157.8V162.6M373.5 159.7L375.2 162.6M376.0 157.8H379.5M376.0 159.7H379.5M376.0 160.7H378.6M376.5 161.6H379.5M376.0 162.6H379.5M379.5 157.8V162.6M377.8 158.8V162.6M377.8 159.7L376.0 162.6M380.3 158.8H383.3M380.8 159.7H383.8M380.3 160.7H383.8M381.5 161.6H383.8M382.0 157.8V162.6M383.8 157.8V161.9M381.5 157.8V161.9" stroke="#4a4a4a" stroke-width="0.71" fill="none"/>
<line x1="357.0" y1="162.8" x2="384.6" y2="162.8" stroke="#444444" stroke-width="0.6" />
<text transform="translate(355.4 167.6) scale(0.78 1)" font-size="6.14" fill="#484848" text-anchor="start" dominant-baseline="central" font-family="'Liberation Sans', sans-serif" font-weight="normal" font-style="normal" stroke="#484848" stroke-width="0.22" >10cm</text>
<path d="M368.6 165.2H370.4M367.9 166.2H370.0M367.9 169.0H370.9M367.9 170.0H370.4M369.7 165.2V169.3M368.6 165.2V170.0M369.1 167.1L370.9 170.0M371.7 165.2H375.2M372.2 167.1H374.3M372.9 168.1H374.7M371.7 169.0H375.2M372.9 170.0H375.2M371.7 165.2V169.3M375.2 166.2V170.0M374.0 165.2V169.3M373.5 167.1L371.7 170.0M373.5 167.1L375.2 170.0M377.2 165.2H379.5M376.0 166.2H379.5M376.0 167.1H379.5M377.2 168.1H379.5M376.0 169.0H379.5M377.8 165.2V170.0M378.3 166.2V169.3M377.2 166.7V169.3M380.3 165.2H383.8M381.5 166.2H383.8M380.3 169.0H383.8M380.3 165.2V170.0M383.8 166.7V170.0" stroke="#4a4a4a" stroke-width="0.71" fill="none"/>
<line x1="355.0" y1="170.3" x2="384.6" y2="170.3" stroke="#444444" stroke-width="0.6" />
<line x1="417.4" y1="95.2" x2="417.4" y2="154.0" stroke="#5a5a5a" stroke-width="0.7" />
<line x1="413.9" y1="95.2" x2="420.9" y2="95.2" stroke="#5a5a5a" stroke-width="0.7" />
<line x1="413.9" y1="104.3" x2="420.9" y2="104.3" stroke="#5a5a5a" stroke-width="0.7" />
<line x1="413.9" y1="138.0" x2="420.9" y2="138.0" stroke="#5a5a5a" stroke-width="0.7" />
<line x1="413.9" y1="142.4" x2="420.9" y2="142.4" stroke="#5a5a5a" stroke-width="0.7" />
<line x1="413.9" y1="149.6" x2="420.9" y2="149.6" stroke="#5a5a5a" stroke-width="0.7" />
<text transform="translate(414.6 99.6) rotate(-90) scale(0.78 1)" font-size="5.63" fill="#484848" text-anchor="middle" dominant-baseline="central" font-family="'Liberation Sans', sans-serif" font-weight="normal" font-style="normal" stroke="#484848" stroke-width="0.22" >20</text>
<text transform="translate(414.8 121.0) rotate(-90) scale(0.78 1)" font-size="5.63" fill="#484848" text-anchor="middle" dominant-baseline="central" font-family="'Liberation Sans', sans-serif" font-weight="normal" font-style="normal" stroke="#484848" stroke-width="0.22" >70</text>
<text transform="translate(408.0 140.2) rotate(-90) scale(0.78 1)" font-size="5.38" fill="#484848" text-anchor="middle" dominant-baseline="central" font-family="'Liberation Sans', sans-serif" font-weight="normal" font-style="normal" stroke="#484848" stroke-width="0.22" >10</text>
<text transform="translate(414.8 146.0) rotate(-90) scale(0.78 1)" font-size="5.38" fill="#484848" text-anchor="middle" dominant-baseline="central" font-family="'Liberation Sans', sans-serif" font-weight="normal" font-style="normal" stroke="#484848" stroke-width="0.22" >15</text>
<path d="M424.5 104.3 L433.8 94.6 L444.1 94.6 L452.4 104.3" stroke="#444444" stroke-width="0.9" fill="none" />
<line x1="429.0" y1="85.2" x2="449.0" y2="85.2" stroke="#5a5a5a" stroke-width="0.7" />
<line x1="433.8" y1="82.6" x2="433.8" y2="88.6" stroke="#5a5a5a" stroke-width="0.7" />
<line x1="444.1" y1="82.6" x2="444.1" y2="88.6" stroke="#5a5a5a" stroke-width="0.7" />
<text transform="translate(439.0 81.8) scale(0.78 1)" font-size="6.14" fill="#484848" text-anchor="middle" dominant-baseline="central" font-family="'Liberation Sans', sans-serif" font-weight="normal" font-style="normal" stroke="#484848" stroke-width="0.22" >20</text>
<path d="M404.3 79.2H406.7M404.9 80.0H406.7M404.9 80.8H406.0M404.9 82.4H406.7M405.8 79.2V83.2M404.8 79.2V82.6M403.9 79.2V83.2M405.3 80.8L403.9 83.2M408.5 79.2H409.9M407.9 80.8H410.3M407.5 81.6H410.3M407.5 83.2H409.9M408.4 80.0V83.2M410.3 80.4V83.2M408.9 80.8L410.3 83.2M411.1 79.2H413.5M411.1 80.0H413.2M411.1 81.6H413.9M411.1 82.4H413.9M411.1 83.2H413.9M413.9 80.0V83.2M412.0 79.2V83.2M412.5 80.8L411.1 83.2M414.7 79.2H417.1M414.7 82.4H417.5M415.7 83.2H417.5M415.6 79.2V83.2M417.5 79.2V82.6M416.1 80.8L414.7 83.2" stroke="#4a4a4a" stroke-width="0.59" fill="none"/>
<line x1="403.0" y1="83.7" x2="418.0" y2="83.7" stroke="#444444" stroke-width="0.6" />
<line x1="418.0" y1="83.7" x2="430.5" y2="97.5" stroke="#444444" stroke-width="0.6" />
<text transform="translate(428.6 98.6) rotate(-45) scale(0.78 1)" font-size="4.86" fill="#484848" text-anchor="middle" dominant-baseline="central" font-family="'Liberation Sans', sans-serif" font-weight="normal" font-style="normal" stroke="#484848" stroke-width="0.22" >1:1</text>
<text transform="translate(450.2 99.6) rotate(45) scale(0.78 1)" font-size="4.86" fill="#484848" text-anchor="middle" dominant-baseline="central" font-family="'Liberation Sans', sans-serif" font-weight="normal" font-style="normal" stroke="#484848" stroke-width="0.22" >1:1</text>
<text transform="translate(581.7 34.7) scale(0.78 1)" font-size="8.19" fill="#484848" text-anchor="start" dominant-baseline="central" font-family="'Liberation Sans', sans-serif" font-weight="normal" font-style="normal" stroke="#484848" stroke-width="0.22" >II</text>
<line x1="581.3" y1="31.6" x2="585.7" y2="31.6" stroke="#484848" stroke-width="0.55" />
<line x1="581.3" y1="37.8" x2="585.7" y2="37.8" stroke="#484848" stroke-width="0.55" />
<text transform="translate(587.3 34.7) scale(0.78 1)" font-size="8.19" fill="#484848" text-anchor="start" dominant-baseline="central" font-family="'Liberation Sans', sans-serif" font-weight="normal" font-style="normal" stroke="#484848" stroke-width="0.22" >−2</text>
<path d="M597.8 31.1H601.6M598.5 32.5H601.6M599.4 35.4H601.6M597.8 36.9H601.6M600.1 32.5V38.3M597.8 33.3V38.3M600.1 34.0L602.3 38.3M605.1 31.1H608.0M603.5 32.5H608.0M604.2 35.4H608.0M605.1 38.3H608.0M605.0 31.1V38.3M605.8 33.3V38.3M603.5 33.3V37.2M605.8 34.0L608.0 38.3M609.2 34.0H613.0M609.2 35.4H613.7M610.8 36.9H613.7M609.2 38.3H613.7M613.7 32.5V38.3M609.2 31.1V38.3M614.9 31.1H618.7M615.6 34.0H618.3M614.9 35.4H618.3M616.4 31.1V38.3M617.9 32.5V37.2M614.9 31.1V38.3M620.6 34.0H625.1M621.3 35.4H624.0M620.6 38.3H625.1M622.9 31.1V38.3M622.1 32.5V37.2M622.9 34.0L625.1 38.3" stroke="#4a4a4a" stroke-width="0.94" fill="none"/>
<line x1="574.9" y1="40.6" x2="632.6" y2="40.6" stroke="#444444" stroke-width="0.9" />
<line x1="574.9" y1="42.4" x2="632.6" y2="42.4" stroke="#444444" stroke-width="0.5" />
<text transform="translate(603.5 47.8) scale(0.78 1)" font-size="6.91" fill="#484848" text-anchor="middle" dominant-baseline="central" font-family="'Liberation Sans', sans-serif" font-weight="normal" font-style="normal" stroke="#484848" stroke-width="0.22" >1 : 40</text>
<line x1="510.2" y1="65.2" x2="643.5" y2="65.2" stroke="#5a5a5a" stroke-width="0.7" />
<line x1="510.2" y1="61.4" x2="510.2" y2="76.5" stroke="#5a5a5a" stroke-width="0.7" />
<line x1="577.6" y1="61.4" x2="577.6" y2="79.8" stroke="#5a5a5a" stroke-width="0.7" />
<line x1="643.5" y1="61.4" x2="643.5" y2="79.8" stroke="#5a5a5a" stroke-width="0.7" />
<line x1="577.6" y1="75.2" x2="643.5" y2="75.2" stroke="#5a5a5a" stroke-width="0.7" />
<line x1="596.4" y1="72.6" x2="596.4" y2="78.0" stroke="#5a5a5a" stroke-width="0.7" />
<line x1="623.8" y1="72.6" x2="623.8" y2="78.0" stroke="#5a5a5a" stroke-width="0.7" />
<text transform="translate(610.8 61.8) scale(0.78 1)" font-size="6.66" fill="#484848" text-anchor="middle" dominant-baseline="central" font-family="'Liberation Sans', sans-serif" font-weight="normal" font-style="normal" stroke="#484848" stroke-width="0.22" >140</text>
<text transform="translate(586.9 72.0) scale(0.78 1)" font-size="6.66" fill="#484848" text-anchor="middle" dominant-baseline="central" font-family="'Liberation Sans', sans-serif" font-weight="normal" font-style="normal" stroke="#484848" stroke-width="0.22" >40</text>
<text transform="translate(610.8 72.0) scale(0.78 1)" font-size="6.66" fill="#484848" text-anchor="middle" dominant-baseline="central" font-family="'Liberation Sans', sans-serif" font-weight="normal" font-style="normal" stroke="#484848" stroke-width="0.22" >60</text>
<text transform="translate(633.4 72.0) scale(0.78 1)" font-size="6.66" fill="#484848" text-anchor="middle" dominant-baseline="central" font-family="'Liberation Sans', sans-serif" font-weight="normal" font-style="normal" stroke="#484848" stroke-width="0.22" >40</text>
<path d="M537.5 60.0H541.1M538.7 60.9H541.1M537.5 61.8H540.6M538.0 62.6H540.2M538.7 60.0V64.4M537.5 60.0V64.4M539.3 61.8L537.5 64.4M539.3 61.8L541.1 64.4M542.1 60.9H545.7M542.6 61.8H544.8M542.1 63.5H545.7M543.3 64.4H544.8M545.7 60.0V63.7M543.3 60.0V64.4M543.9 61.8L542.1 64.4M543.9 61.8L545.7 64.4M546.7 60.9H549.8M547.9 62.6H549.4M547.9 64.4H550.3M549.1 60.9V64.4M547.9 61.3V64.4M548.5 60.0V64.4M548.5 61.8L546.7 64.4M548.5 61.8L550.3 64.4" stroke="#4a4a4a" stroke-width="0.76" fill="none"/>
<line x1="473.8" y1="79.8" x2="510.2" y2="103.5" stroke="#444444" stroke-width="0.9" />
<line x1="462.0" y1="103.5" x2="722.5" y2="103.5" stroke="#626262" stroke-width="0.75" />
<path d="M492.6 74.1H494.8M492.6 75.9H494.8M491.9 77.8H494.3M493.7 74.1V78.7M492.5 74.1V78.0M493.1 75.9L494.8 78.7M496.8 75.9H499.0M495.6 76.9H499.0M496.8 78.7H498.1M497.3 74.1V78.7M499.0 75.5V78.0M495.6 74.1V78.7M497.3 75.9L495.6 78.7M497.3 75.9L499.0 78.7M499.8 75.0H503.2M500.3 76.9H502.3M501.0 78.7H502.7M500.9 74.1V78.7M502.1 75.5V78.0M503.2 75.0V78.7M505.2 75.0H506.5M505.2 75.9H507.4M504.5 77.8H507.4M504.5 78.7H506.5M504.0 74.1V78.0M505.7 75.0V78.0" stroke="#4a4a4a" stroke-width="0.69" fill="none"/>
<line x1="490.6" y1="79.0" x2="507.7" y2="79.0" stroke="#444444" stroke-width="0.6" />
<line x1="490.6" y1="79.0" x2="486.3" y2="86.4" stroke="#444444" stroke-width="0.6" />
<text transform="translate(501.4 95.4) rotate(34) scale(0.78 1)" font-size="5.89" fill="#484848" text-anchor="middle" dominant-baseline="central" font-family="'Liberation Sans', sans-serif" font-weight="normal" font-style="normal" stroke="#484848" stroke-width="0.22" >1:1.5</text>
<text transform="translate(519.5 96.4) scale(0.78 1)" font-size="6.14" fill="#484848" text-anchor="middle" dominant-baseline="central" font-family="'Liberation Sans', sans-serif" font-weight="normal" font-style="normal" stroke="#484848" stroke-width="0.22" >2%</text>
<line x1="512.7" y1="101.0" x2="529.0" y2="101.0" stroke="#444444" stroke-width="0.7" />
<path d="M529.0 101.0 L525.0 99.8 L525.0 101.6 Z" stroke="#444444" stroke-width="0.3" fill="#444444" />
<path d="M535.3 99.1 L537.4 101.5 L539.5 99.1" stroke="#444444" stroke-width="0.9" fill="none" />
<line x1="537.4" y1="101.5" x2="537.4" y2="103.5" stroke="#444444" stroke-width="0.9" />
<path d="M550.6 99.1 L552.7 101.5 L554.8 99.1" stroke="#444444" stroke-width="0.9" fill="none" />
<line x1="552.7" y1="101.5" x2="552.7" y2="103.5" stroke="#444444" stroke-width="0.9" />
<line x1="564.0" y1="93.4" x2="578.1" y2="93.4" stroke="#5a5a5a" stroke-width="0.7" />
<line x1="564.3" y1="90.0" x2="564.3" y2="99.4" stroke="#5a5a5a" stroke-width="0.7" />
<line x1="578.1" y1="90.0" x2="578.1" y2="99.4" stroke="#5a5a5a" stroke-width="0.7" />
<text transform="translate(571.0 90.8) scale(0.78 1)" font-size="6.14" fill="#484848" text-anchor="middle" dominant-baseline="central" font-family="'Liberation Sans', sans-serif" font-weight="normal" font-style="normal" stroke="#484848" stroke-width="0.22" >28</text>
<path d="M564.4 103.5 L588.8 152.3 L632.3 152.3 L656.7 103.5 L648.3 103.5 L629.3 141.5 L631.8 141.5 L631.8 146.0 L589.3 146.0 L589.3 141.5 L591.8 141.5 L572.8 103.5 Z" fill="url(#tex)" stroke="none"/>
<path d="M577.8 103.5 L596.8 141.5 L624.3 141.5 L643.3 103.5" stroke="#444444" stroke-width="0.9" fill="none" />
<path d="M572.8 103.5 L591.8 141.5" stroke="#444444" stroke-width="0.8" fill="none" />
<path d="M648.3 103.5 L629.3 141.5" stroke="#444444" stroke-width="0.8" fill="none" />
<path d="M589.3 141.5 L596.8 141.5" stroke="#444444" stroke-width="0.8" fill="none" />
<path d="M624.3 141.5 L631.8 141.5" stroke="#444444" stroke-width="0.8" fill="none" />
<path d="M589.3 141.5 L589.3 146.0 L631.8 146.0 L631.8 141.5" stroke="#444444" stroke-width="0.8" fill="none" />
<path d="M569.6 103.5 L591.9 148.1 L629.2 148.1 L651.5 103.5" stroke="#8a8a8a" stroke-width="0.5" fill="none" />
<line x1="564.4" y1="103.5" x2="577.8" y2="103.5" stroke="#444444" stroke-width="0.9" />
<line x1="643.3" y1="103.5" x2="656.7" y2="103.5" stroke="#444444" stroke-width="0.9" />
<path d="M564.4 103.5 L588.8 152.3 L632.3 152.3 L656.7 103.5" stroke="#444444" stroke-width="0.9" fill="none" />
<path d="M614.0 104.7H617.0M614.0 106.4H617.0M615.0 108.1H616.6M615.0 104.7V108.3M616.0 104.7V108.3M617.8 105.5H620.1M617.8 106.4H620.8M618.2 107.2H620.1M617.8 108.9H620.8M619.8 106.0V108.9M617.8 104.7V108.3M619.3 106.4L617.8 108.9M622.6 104.7H624.2M622.6 105.5H624.2M622.6 106.4H623.9M621.6 107.2H624.6M622.0 108.1H624.6M624.6 105.5V108.9M621.6 106.0V108.9M623.1 106.4L624.6 108.9" stroke="#4a4a4a" stroke-width="0.63" fill="none"/>
<text transform="translate(624.4 106.8) scale(0.78 1)" font-size="5.12" fill="#484848" text-anchor="middle" dominant-baseline="central" font-family="'Liberation Sans', sans-serif" font-weight="normal" font-style="normal" stroke="#484848" stroke-width="0.22" >C</text>
<line x1="613.2" y1="109.6" x2="626.0" y2="109.6" stroke="#444444" stroke-width="0.6" />
<line x1="626.0" y1="109.6" x2="635.1" y2="117.1" stroke="#444444" stroke-width="0.6" />
<path d="M603.0 131.7H605.6M603.0 133.4H605.2M603.6 135.1H605.6M604.6 132.2V135.1M604.1 130.9V135.1M604.1 132.6L602.6 135.1M606.8 132.6H609.4M607.4 133.4H609.4M606.8 134.3H609.4M606.8 135.1H609.0M609.4 130.9V135.1M606.4 132.2V134.5M607.9 132.6L609.4 135.1M611.2 130.9H613.2M611.2 131.7H613.2M610.2 135.1H613.2M612.2 130.9V134.5M611.2 130.9V135.1M611.7 132.6L610.2 135.1M611.7 132.6L613.2 135.1" stroke="#4a4a4a" stroke-width="0.63" fill="none"/>
<text transform="translate(613.0 133.0) scale(0.78 1)" font-size="5.12" fill="#484848" text-anchor="middle" dominant-baseline="central" font-family="'Liberation Sans', sans-serif" font-weight="normal" font-style="normal" stroke="#484848" stroke-width="0.22" >D</text>
<line x1="602.0" y1="136.0" x2="615.8" y2="136.0" stroke="#444444" stroke-width="0.6" />
<line x1="615.8" y1="136.0" x2="621.4" y2="141.5" stroke="#444444" stroke-width="0.6" />
<text transform="translate(590.8 119.0) rotate(63) scale(0.78 1)" font-size="5.38" fill="#484848" text-anchor="middle" dominant-baseline="central" font-family="'Liberation Sans', sans-serif" font-weight="normal" font-style="normal" stroke="#484848" stroke-width="0.22" >1:0.50</text>
<text transform="translate(628.6 119.4) rotate(-63) scale(0.78 1)" font-size="5.38" fill="#484848" text-anchor="middle" dominant-baseline="central" font-family="'Liberation Sans', sans-serif" font-weight="normal" font-style="normal" stroke="#484848" stroke-width="0.22" >1:0.50</text>
<text transform="translate(583.6 109.6) rotate(-27) scale(0.78 1)" font-size="5.12" fill="#484848" text-anchor="middle" dominant-baseline="central" font-family="'Liberation Sans', sans-serif" font-weight="normal" font-style="normal" stroke="#484848" stroke-width="0.22" >10</text>
<text transform="translate(639.4 103.4) rotate(-27) scale(0.78 1)" font-size="5.12" fill="#484848" text-anchor="middle" dominant-baseline="central" font-family="'Liberation Sans', sans-serif" font-weight="normal" font-style="normal" stroke="#484848" stroke-width="0.22" >10</text>
<line x1="623.3" y1="146.7" x2="623.3" y2="175.1" stroke="#444444" stroke-width="0.7" />
<text transform="translate(596.4 163.2) scale(0.78 1)" font-size="6.14" fill="#484848" text-anchor="start" dominant-baseline="central" font-family="'Liberation Sans', sans-serif" font-weight="normal" font-style="normal" stroke="#484848" stroke-width="0.22" >5cm</text>
<path d="M606.9 161.8H609.3M606.4 162.7H608.9M606.4 165.5H609.3M608.7 162.3V164.8M606.4 160.9V165.5M611.8 160.9H614.0M611.8 162.7H613.1M610.6 163.7H614.0M611.8 164.6H614.0M610.6 160.9V165.5M612.9 160.9V165.5M612.3 162.7L610.6 165.5M612.3 162.7L614.0 165.5M614.8 160.9H618.2M615.3 161.8H618.2M614.8 162.7H617.7M616.0 163.7H617.3M616.5 160.9V165.5M614.8 160.9V165.5M618.2 160.9V165.5M616.5 162.7L614.8 165.5M619.5 160.9H621.9M620.2 163.7H621.5M619.0 164.6H622.4M620.7 162.3V165.5M620.1 162.3V165.5" stroke="#4a4a4a" stroke-width="0.69" fill="none"/>
<line x1="596.0" y1="165.9" x2="623.3" y2="165.9" stroke="#444444" stroke-width="0.6" />
<text transform="translate(594.4 171.8) scale(0.78 1)" font-size="6.14" fill="#484848" text-anchor="start" dominant-baseline="central" font-family="'Liberation Sans', sans-serif" font-weight="normal" font-style="normal" stroke="#484848" stroke-width="0.22" >10cm</text>
<path d="M606.4 169.5H609.8M606.9 170.4H608.9M606.4 171.3H608.9M607.6 173.2H608.9M606.4 174.1H608.9M606.4 170.4V174.1M608.1 170.9V174.1M611.1 170.4H613.1M611.1 171.3H614.0M611.8 173.2H613.1M611.7 169.5V173.4M612.3 170.9V174.1M615.3 169.5H618.2M614.8 171.3H617.3M615.3 172.3H617.7M616.0 173.2H618.2M614.8 174.1H618.2M614.8 170.4V174.1M615.9 170.4V174.1M619.0 169.5H621.9M620.2 171.3H622.4M619.0 172.3H621.9M619.0 169.5V174.1M620.7 169.5V174.1M620.1 170.9V173.4M620.7 171.3L622.4 174.1" stroke="#4a4a4a" stroke-width="0.69" fill="none"/>
<line x1="594.0" y1="175.1" x2="623.3" y2="175.1" stroke="#444444" stroke-width="0.6" />
<line x1="661.1" y1="103.3" x2="661.1" y2="157.0" stroke="#5a5a5a" stroke-width="0.7" />
<line x1="657.6" y1="140.8" x2="664.6" y2="140.8" stroke="#5a5a5a" stroke-width="0.7" />
<line x1="657.6" y1="145.3" x2="664.6" y2="145.3" stroke="#5a5a5a" stroke-width="0.7" />
<line x1="657.6" y1="152.5" x2="664.6" y2="152.5" stroke="#5a5a5a" stroke-width="0.7" />
<line x1="654.4" y1="93.4" x2="654.4" y2="103.3" stroke="#5a5a5a" stroke-width="0.7" />
<line x1="651.4" y1="93.4" x2="657.4" y2="93.4" stroke="#5a5a5a" stroke-width="0.7" />
<text transform="translate(648.6 98.2) rotate(-90) scale(0.78 1)" font-size="5.63" fill="#484848" text-anchor="middle" dominant-baseline="central" font-family="'Liberation Sans', sans-serif" font-weight="normal" font-style="normal" stroke="#484848" stroke-width="0.22" >20</text>
<text transform="translate(657.4 121.0) rotate(-90) scale(0.78 1)" font-size="5.63" fill="#484848" text-anchor="middle" dominant-baseline="central" font-family="'Liberation Sans', sans-serif" font-weight="normal" font-style="normal" stroke="#484848" stroke-width="0.22" >80</text>
<text transform="translate(651.0 142.0) rotate(-90) scale(0.78 1)" font-size="5.38" fill="#484848" text-anchor="middle" dominant-baseline="central" font-family="'Liberation Sans', sans-serif" font-weight="normal" font-style="normal" stroke="#484848" stroke-width="0.22" >10</text>
<text transform="translate(657.4 149.0) rotate(-90) scale(0.78 1)" font-size="5.38" fill="#484848" text-anchor="middle" dominant-baseline="central" font-family="'Liberation Sans', sans-serif" font-weight="normal" font-style="normal" stroke="#484848" stroke-width="0.22" >15</text>
<path d="M661.1 103.5 L670.2 93.4 L679.8 93.4 L688.8 103.5" stroke="#444444" stroke-width="0.9" fill="none" />
<line x1="662.4" y1="84.1" x2="686.3" y2="84.1" stroke="#5a5a5a" stroke-width="0.7" />
<line x1="670.2" y1="81.5" x2="670.2" y2="88.4" stroke="#5a5a5a" stroke-width="0.7" />
<line x1="679.8" y1="81.5" x2="679.8" y2="88.4" stroke="#5a5a5a" stroke-width="0.7" />
<text transform="translate(675.0 80.4) scale(0.78 1)" font-size="6.14" fill="#484848" text-anchor="middle" dominant-baseline="central" font-family="'Liberation Sans', sans-serif" font-weight="normal" font-style="normal" stroke="#484848" stroke-width="0.22" >20</text>
<path d="M643.7 82.1H646.1M643.7 83.6H646.1M643.7 84.4H646.5M644.7 85.9H646.5M643.7 82.9V85.3M646.5 83.3V85.9M647.1 82.1H649.5M647.5 84.4H649.9M647.1 85.1H649.2M649.0 82.9V85.9M648.0 82.1V85.9M648.5 83.6L647.1 85.9M648.5 83.6L649.9 85.9M650.9 82.1H652.6M650.5 84.4H653.3M650.5 85.1H652.9M650.5 85.9H653.3M651.9 82.1V85.9M652.4 82.9V85.9M653.3 82.9V85.9M651.9 83.6L650.5 85.9M653.9 82.9H656.0M653.9 84.4H656.7M653.9 85.1H656.7M656.7 82.1V85.9M655.3 82.1V85.9" stroke="#4a4a4a" stroke-width="0.56" fill="none"/>
<line x1="643.0" y1="86.8" x2="656.7" y2="86.8" stroke="#444444" stroke-width="0.6" />
<line x1="656.7" y1="86.8" x2="668.1" y2="98.9" stroke="#444444" stroke-width="0.6" />
<text transform="translate(666.0 98.0) rotate(-45) scale(0.78 1)" font-size="4.86" fill="#484848" text-anchor="middle" dominant-baseline="central" font-family="'Liberation Sans', sans-serif" font-weight="normal" font-style="normal" stroke="#484848" stroke-width="0.22" >1:1</text>
<text transform="translate(687.6 99.0) rotate(45) scale(0.78 1)" font-size="4.86" fill="#484848" text-anchor="middle" dominant-baseline="central" font-family="'Liberation Sans', sans-serif" font-weight="normal" font-style="normal" stroke="#484848" stroke-width="0.22" >1:1</text>
<path d="M52.7 209.7H57.5M52.7 211.1H57.5M52.7 212.5H58.3M52.7 215.2H56.9M54.5 209.7V215.2M56.5 210.4V215.2M52.7 208.4V215.2M55.5 211.1L52.7 215.2M60.5 208.4H63.9M61.7 209.7H65.3M59.7 211.1H65.3M59.7 212.5H63.9M59.7 208.4V215.2M62.5 210.4V215.2M66.7 211.1H72.3M67.5 212.5H72.3M66.7 215.2H70.9M69.5 208.4V214.2M68.5 209.7V215.2M70.5 209.7V215.2M69.5 211.1L66.7 215.2" stroke="#4a4a4a" stroke-width="1.16" fill="none"/>
<text transform="translate(73.4 211.8) scale(0.78 1)" font-size="8.19" fill="#484848" text-anchor="start" dominant-baseline="central" font-family="'Liberation Sans', sans-serif" font-weight="normal" font-style="normal" stroke="#484848" stroke-width="0.22" >A</text>
<rect x="80" y="214.2" width="1.3" height="1.3" fill="#444"/>
<text transform="translate(85.0 211.8) scale(0.78 1)" font-size="8.19" fill="#484848" text-anchor="start" dominant-baseline="central" font-family="'Liberation Sans', sans-serif" font-weight="normal" font-style="normal" stroke="#484848" stroke-width="0.22" >B</text>
<rect x="91.6" y="214.2" width="1.3" height="1.3" fill="#444"/>
<text transform="translate(96.4 211.8) scale(0.78 1)" font-size="8.19" fill="#484848" text-anchor="start" dominant-baseline="central" font-family="'Liberation Sans', sans-serif" font-weight="normal" font-style="normal" stroke="#484848" stroke-width="0.22" >C</text>
<path d="M104.3 208.4H110.3M104.3 209.7H110.3M104.3 213.9H108.8M105.2 215.2H110.3M106.3 209.7V215.2M110.3 208.4V215.2M112.6 211.1H116.2M111.7 213.9H117.7M113.8 215.2H116.2M114.7 208.4V214.2M113.7 209.7V215.2M114.7 211.1L111.7 215.2M114.7 211.1L117.7 215.2" stroke="#4a4a4a" stroke-width="1.22" fill="none"/>
<line x1="50.9" y1="216.2" x2="121.0" y2="216.2" stroke="#444444" stroke-width="0.9" />
<line x1="50.9" y1="218.0" x2="121.0" y2="218.0" stroke="#444444" stroke-width="0.5" />
<text transform="translate(81.7 223.4) scale(0.78 1)" font-size="6.91" fill="#484848" text-anchor="middle" dominant-baseline="central" font-family="'Liberation Sans', sans-serif" font-weight="normal" font-style="normal" stroke="#484848" stroke-width="0.22" >1 : 10</text>
<path d="M71.1 245.4 L90.8 245.4 L115.4 341.9 L96.1 341.9 Z" stroke="#444444" stroke-width="0.9" fill="none" />
<line x1="103.2" y1="243.0" x2="128.8" y2="340.3" stroke="#5a5a5a" stroke-width="0.7" />
<line x1="90.8" y1="245.4" x2="106.0" y2="241.8" stroke="#5a5a5a" stroke-width="0.6" />
<line x1="115.4" y1="341.9" x2="131.4" y2="338.6" stroke="#5a5a5a" stroke-width="0.6" />
<g transform="translate(106.8 259.4) rotate(75.3)">
<text transform="translate(0.0 -3.4) scale(0.78 1)" font-size="6.66" fill="#484848" text-anchor="start" dominant-baseline="central" font-family="'Liberation Sans', sans-serif" font-weight="normal" font-style="normal" stroke="#484848" stroke-width="0.22" >A</text>
<text transform="translate(3.8 -3.4) scale(0.78 1)" font-size="6.66" fill="#484848" text-anchor="start" dominant-baseline="central" font-family="'Liberation Sans', sans-serif" font-weight="normal" font-style="normal" stroke="#484848" stroke-width="0.22" >=59.3,</text>
<text transform="translate(24.0 -3.4) scale(0.78 1)" font-size="6.66" fill="#484848" text-anchor="start" dominant-baseline="central" font-family="'Liberation Sans', sans-serif" font-weight="normal" font-style="normal" stroke="#484848" stroke-width="0.22" >B</text>
<text transform="translate(27.8 -3.4) scale(0.78 1)" font-size="6.66" fill="#484848" text-anchor="start" dominant-baseline="central" font-family="'Liberation Sans', sans-serif" font-weight="normal" font-style="normal" stroke="#484848" stroke-width="0.22" >=70.3,</text>
<text transform="translate(48.0 -3.4) scale(0.78 1)" font-size="6.66" fill="#484848" text-anchor="start" dominant-baseline="central" font-family="'Liberation Sans', sans-serif" font-weight="normal" font-style="normal" stroke="#484848" stroke-width="0.22" >C</text>
<text transform="translate(51.8 -3.4) scale(0.78 1)" font-size="6.66" fill="#484848" text-anchor="start" dominant-baseline="central" font-family="'Liberation Sans', sans-serif" font-weight="normal" font-style="normal" stroke="#484848" stroke-width="0.22" >=81.7</text>
</g>
<line x1="81.1" y1="281.7" x2="100.7" y2="277.6" stroke="#444444" stroke-width="0.7" />
<text transform="translate(88.9 275.6) rotate(-12) scale(0.78 1)" font-size="6.14" fill="#484848" text-anchor="middle" dominant-baseline="central" font-family="'Liberation Sans', sans-serif" font-weight="normal" font-style="normal" stroke="#484848" stroke-width="0.22" >10</text>
<text transform="translate(91.6 305.1) rotate(75.5) scale(0.78 1)" font-size="5.89" fill="#484848" text-anchor="middle" dominant-baseline="central" font-family="'Liberation Sans', sans-serif" font-weight="normal" font-style="normal" stroke="#484848" stroke-width="0.22" >1:0.5</text>
<text transform="translate(110.1 301.3) rotate(75.5) scale(0.78 1)" font-size="5.89" fill="#484848" text-anchor="middle" dominant-baseline="central" font-family="'Liberation Sans', sans-serif" font-weight="normal" font-style="normal" stroke="#484848" stroke-width="0.22" >1:0.5</text>
<text transform="translate(30.2 258.6) scale(0.78 1)" font-size="5.38" fill="#484848" text-anchor="start" dominant-baseline="central" font-family="'Liberation Sans', sans-serif" font-weight="normal" font-style="normal" stroke="#484848" stroke-width="0.22" >C25</text>
<path d="M38.8 256.5H41.4M38.8 258.2H41.4M39.8 259.0H41.8M39.2 259.9H41.8M39.8 260.7H41.1M38.8 256.5V260.7M39.8 256.5V260.1M41.8 256.5V260.7M40.3 258.2L38.8 260.7M40.3 258.2L41.8 260.7M43.0 256.5H45.6M43.6 257.3H45.6M43.6 260.7H45.6M42.6 256.5V260.7M43.6 256.5V260.7M44.1 258.2L42.6 260.7M46.4 256.5H49.4M46.4 257.3H49.4M47.4 259.9H48.7M46.4 260.7H49.4M48.4 256.5V260.7M49.4 256.5V260.7M47.9 257.3V260.7M47.9 258.2L46.4 260.7M47.9 258.2L49.4 260.7M50.2 258.2H52.8M50.2 259.0H52.8M50.2 259.9H52.5M50.2 260.7H52.8M53.2 256.5V260.7M51.2 257.8V260.7M51.7 258.2L53.2 260.7M54.0 259.0H57.0M54.0 259.9H56.6M54.4 260.7H57.0M54.0 256.5V260.7M55.5 256.5V260.7M57.0 257.3V260.7M55.5 258.2L54.0 260.7M57.8 256.5H60.1M57.8 258.2H60.1M57.8 259.9H60.8M59.8 257.3V260.7M59.3 256.5V260.1" stroke="#4a4a4a" stroke-width="0.63" fill="none"/>
<line x1="30.0" y1="262.4" x2="61.8" y2="262.4" stroke="#444444" stroke-width="0.6" />
<line x1="61.8" y1="262.4" x2="78.9" y2="269.2" stroke="#444444" stroke-width="0.6" />
<line x1="96.1" y1="352.2" x2="115.4" y2="352.2" stroke="#5a5a5a" stroke-width="0.7" />
<line x1="96.1" y1="343.4" x2="96.1" y2="354.6" stroke="#5a5a5a" stroke-width="0.7" />
<line x1="115.4" y1="343.4" x2="115.4" y2="354.6" stroke="#5a5a5a" stroke-width="0.7" />
<text transform="translate(105.6 348.6) scale(0.78 1)" font-size="6.14" fill="#484848" text-anchor="middle" dominant-baseline="central" font-family="'Liberation Sans', sans-serif" font-weight="normal" font-style="normal" stroke="#484848" stroke-width="0.22" >11.2</text>
<path d="M233.8 229.6H238.0M235.6 230.9H238.0M235.6 232.3H237.5M234.6 233.6H238.8M233.8 235.0H238.0M235.5 230.2V235.0M237.1 229.6V235.0M236.3 230.9L238.8 235.0M240.8 228.2H245.0M240.0 229.6H245.0M240.0 230.9H244.2M241.8 232.3H245.0M241.8 235.0H243.7M240.0 228.2V235.0M241.7 229.6V234.0M242.5 230.9L240.0 235.0M247.0 228.2H251.2M248.0 229.6H251.2M246.2 230.9H249.9M246.2 233.6H249.9M248.0 235.0H251.2M248.7 230.2V235.0M246.2 230.2V235.0M248.7 230.9L251.2 235.0" stroke="#4a4a4a" stroke-width="1.02" fill="none"/>
<text transform="translate(255.6 231.6) scale(0.78 1)" font-size="8.19" fill="#484848" text-anchor="middle" dominant-baseline="central" font-family="'Liberation Sans', sans-serif" font-weight="normal" font-style="normal" stroke="#484848" stroke-width="0.22" >D</text>
<path d="M261.0 230.9H265.2M262.0 232.3H263.9M262.0 233.6H264.4M260.2 235.0H264.4M263.5 228.2V235.0M265.2 229.6V235.0M266.4 229.6H271.4M266.4 230.9H270.6M268.2 232.3H270.6M268.9 230.2V235.0M269.7 230.2V235.0M271.4 228.2V234.0" stroke="#4a4a4a" stroke-width="1.02" fill="none"/>
<line x1="231.4" y1="237.1" x2="275.5" y2="237.1" stroke="#444444" stroke-width="0.9" />
<line x1="231.4" y1="238.9" x2="275.5" y2="238.9" stroke="#444444" stroke-width="0.5" />
<text transform="translate(250.7 244.8) scale(0.78 1)" font-size="7.17" fill="#484848" text-anchor="middle" dominant-baseline="central" font-family="'Liberation Sans', sans-serif" font-weight="normal" font-style="normal" stroke="#484848" stroke-width="0.22" >1 : 10</text>
<line x1="169.8" y1="260.8" x2="345.5" y2="260.8" stroke="#5a5a5a" stroke-width="0.7" />
<line x1="175.3" y1="256.6" x2="175.3" y2="268.8" stroke="#5a5a5a" stroke-width="0.7" />
<line x1="180.6" y1="257.4" x2="180.6" y2="268.2" stroke="#5a5a5a" stroke-width="0.7" />
<line x1="204.3" y1="257.4" x2="204.3" y2="284.5" stroke="#5a5a5a" stroke-width="0.7" />
<line x1="313.5" y1="256.6" x2="313.5" y2="284.2" stroke="#5a5a5a" stroke-width="0.7" />
<line x1="334.9" y1="257.2" x2="334.9" y2="284.2" stroke="#5a5a5a" stroke-width="0.7" />
<line x1="340.6" y1="255.9" x2="340.6" y2="268.6" stroke="#5a5a5a" stroke-width="0.7" />
<line x1="182.7" y1="273.0" x2="182.7" y2="284.5" stroke="#5a5a5a" stroke-width="0.7" />
<text transform="translate(177.9 256.8) scale(0.78 1)" font-size="6.14" fill="#484848" text-anchor="middle" dominant-baseline="central" font-family="'Liberation Sans', sans-serif" font-weight="normal" font-style="normal" stroke="#484848" stroke-width="0.22" >3</text>
<text transform="translate(192.6 257.6) scale(0.78 1)" font-size="6.14" fill="#484848" text-anchor="middle" dominant-baseline="central" font-family="'Liberation Sans', sans-serif" font-weight="normal" font-style="normal" stroke="#484848" stroke-width="0.22" >13.2</text>
<text transform="translate(258.1 257.4) scale(0.78 1)" font-size="6.14" fill="#484848" text-anchor="middle" dominant-baseline="central" font-family="'Liberation Sans', sans-serif" font-weight="normal" font-style="normal" stroke="#484848" stroke-width="0.22" >58</text>
<text transform="translate(324.0 257.6) scale(0.78 1)" font-size="6.14" fill="#484848" text-anchor="middle" dominant-baseline="central" font-family="'Liberation Sans', sans-serif" font-weight="normal" font-style="normal" stroke="#484848" stroke-width="0.22" >13.2</text>
<text transform="translate(338.0 257.0) scale(0.78 1)" font-size="6.14" fill="#484848" text-anchor="middle" dominant-baseline="central" font-family="'Liberation Sans', sans-serif" font-weight="normal" font-style="normal" stroke="#484848" stroke-width="0.22" >3</text>
<path d="M175.3 268.9 L181.3 268.9 L182.7 272.1 L203.6 272.1 L205.0 268.9 L312.4 268.9 L313.6 272.1 L334.5 272.1 L335.9 268.9 L340.6 268.9 L340.6 287.9 L175.3 287.9 Z" stroke="#444444" stroke-width="0.95" fill="none" />
<line x1="182.7" y1="281.0" x2="204.3" y2="281.0" stroke="#5a5a5a" stroke-width="0.7" />
<text transform="translate(193.4 278.0) scale(0.78 1)" font-size="6.14" fill="#484848" text-anchor="middle" dominant-baseline="central" font-family="'Liberation Sans', sans-serif" font-weight="normal" font-style="normal" stroke="#484848" stroke-width="0.22" >12.2</text>
<line x1="313.5" y1="280.8" x2="334.9" y2="280.8" stroke="#5a5a5a" stroke-width="0.7" />
<text transform="translate(323.6 277.6) scale(0.78 1)" font-size="6.14" fill="#484848" text-anchor="middle" dominant-baseline="central" font-family="'Liberation Sans', sans-serif" font-weight="normal" font-style="normal" stroke="#484848" stroke-width="0.22" >12.2</text>
<line x1="309.8" y1="263.6" x2="309.8" y2="277.8" stroke="#5a5a5a" stroke-width="0.6" />
<line x1="307.4" y1="268.9" x2="312.4" y2="268.9" stroke="#5a5a5a" stroke-width="0.6" />
<line x1="307.4" y1="272.1" x2="312.4" y2="272.1" stroke="#5a5a5a" stroke-width="0.6" />
<text transform="translate(309.0 265.6) rotate(-90) scale(0.78 1)" font-size="4.35" fill="#484848" text-anchor="middle" dominant-baseline="central" font-family="'Liberation Sans', sans-serif" font-weight="normal" font-style="normal" stroke="#484848" stroke-width="0.22" >1</text>
<text transform="translate(306.4 276.0) rotate(-90) scale(0.78 1)" font-size="4.35" fill="#484848" text-anchor="middle" dominant-baseline="central" font-family="'Liberation Sans', sans-serif" font-weight="normal" font-style="normal" stroke="#484848" stroke-width="0.22" >2</text>
<line x1="161.0" y1="268.9" x2="161.0" y2="288.4" stroke="#5a5a5a" stroke-width="0.7" />
<line x1="156.9" y1="268.9" x2="168.0" y2="268.9" stroke="#5a5a5a" stroke-width="0.7" />
<line x1="156.9" y1="287.9" x2="168.0" y2="287.9" stroke="#5a5a5a" stroke-width="0.7" />
<text transform="translate(157.6 278.4) rotate(-90) scale(0.78 1)" font-size="6.14" fill="#484848" text-anchor="middle" dominant-baseline="central" font-family="'Liberation Sans', sans-serif" font-weight="normal" font-style="normal" stroke="#484848" stroke-width="0.22" >10</text>
<line x1="247.6" y1="279.0" x2="235.5" y2="321.2" stroke="#444444" stroke-width="0.7" />
<line x1="191.4" y1="321.2" x2="235.5" y2="321.2" stroke="#444444" stroke-width="0.6" />
<text transform="translate(191.6 318.2) scale(0.78 1)" font-size="5.38" fill="#484848" text-anchor="start" dominant-baseline="central" font-family="'Liberation Sans', sans-serif" font-weight="normal" font-style="normal" stroke="#484848" stroke-width="0.22" >C25</text>
<path d="M200.4 316.1H202.7M200.9 316.9H202.7M200.4 320.3H203.5M202.5 317.3V319.7M203.5 316.9V319.7M204.3 317.8H206.9M204.3 319.5H207.4M204.8 320.3H206.9M206.4 316.9V319.7M205.3 316.1V319.7M205.9 316.1V320.3M205.9 317.8L204.3 320.3M208.2 316.1H211.3M208.7 316.9H211.3M208.7 317.8H210.5M208.2 319.5H211.3M208.2 320.3H211.3M210.3 316.1V319.7M209.8 316.1V320.3M209.8 317.8L211.3 320.3M212.1 316.1H214.4M213.2 317.8H214.4M212.1 318.6H215.2M212.6 319.5H215.2M212.1 320.3H214.7M213.1 316.9V319.7M212.1 316.1V319.7M213.6 317.8L212.1 320.3M213.6 317.8L215.2 320.3M216.0 316.1H218.3M216.0 316.9H219.1M216.0 318.6H219.1M216.0 319.5H219.1M216.0 320.3H218.6M218.1 317.3V319.7M217.6 316.9V320.3M217.6 317.8L219.1 320.3M220.4 316.9H222.2M221.0 318.6H223.0M219.9 319.5H223.0M219.9 320.3H223.0M222.0 316.1V320.3M220.9 317.3V319.7M221.4 317.8L219.9 320.3M221.4 317.8L223.0 320.3" stroke="#4a4a4a" stroke-width="0.64" fill="none"/>
<line x1="175.3" y1="305.5" x2="340.6" y2="305.5" stroke="#5a5a5a" stroke-width="0.7" />
<line x1="175.3" y1="301.6" x2="175.3" y2="310.4" stroke="#5a5a5a" stroke-width="0.7" />
<line x1="340.6" y1="301.6" x2="340.6" y2="310.4" stroke="#5a5a5a" stroke-width="0.7" />
<text transform="translate(258.1 302.6) scale(0.78 1)" font-size="6.14" fill="#484848" text-anchor="middle" dominant-baseline="central" font-family="'Liberation Sans', sans-serif" font-weight="normal" font-style="normal" stroke="#484848" stroke-width="0.22" >90.4</text>
<path d="M418.1 227.4H420.7M416.2 230.0H420.2M416.2 231.4H420.2M417.0 232.7H420.7M419.7 228.7V233.0M416.2 227.4V234.0M418.9 230.0L421.5 234.0M422.8 227.4H426.7M424.6 228.7H428.0M422.8 230.0H427.2M424.5 229.4V233.0M426.2 227.4V234.0M431.1 228.7H433.7M429.2 230.0H433.2M429.2 231.4H434.5M434.5 228.7V233.0M429.2 229.4V234.0" stroke="#666" stroke-width="1.07" fill="none"/>
<text transform="translate(435.6 230.7) scale(0.78 1)" font-size="7.94" fill="#666" text-anchor="start" dominant-baseline="central" font-family="'Liberation Sans', sans-serif" font-weight="normal" font-style="normal" stroke="#666" stroke-width="0.22" >A</text>
<text transform="translate(445.8 230.7) scale(0.78 1)" font-size="7.94" fill="#666" text-anchor="start" dominant-baseline="central" font-family="'Liberation Sans', sans-serif" font-weight="normal" font-style="normal" stroke="#666" stroke-width="0.22" >B</text>
<text transform="translate(456.0 230.7) scale(0.78 1)" font-size="7.94" fill="#666" text-anchor="start" dominant-baseline="central" font-family="'Liberation Sans', sans-serif" font-weight="normal" font-style="normal" stroke="#666" stroke-width="0.22" >C</text>
<path d="M464.3 227.4H469.7M465.1 230.0H469.7M464.3 231.4H469.7M465.1 234.0H468.9M464.3 227.4V234.0M467.0 228.7V234.0M467.0 230.0L469.7 234.0M471.1 228.7H476.5M471.9 231.4H475.7M473.0 232.7H476.5M473.0 234.0H476.5M473.8 227.4V234.0M471.1 227.4V234.0" stroke="#666" stroke-width="1.12" fill="none"/>
<rect x="441.6" y="233" width="1.3" height="1.3" fill="#444"/><rect x="451.8" y="233" width="1.3" height="1.3" fill="#444"/>
<line x1="414.5" y1="235.5" x2="481.3" y2="235.5" stroke="#666" stroke-width="0.9" />
<line x1="414.5" y1="237.3" x2="481.3" y2="237.3" stroke="#666" stroke-width="0.5" />
<line x1="383.0" y1="256.1" x2="502.4" y2="256.1" stroke="#444444" stroke-width="0.8" />
<line x1="383.0" y1="331.8" x2="502.4" y2="331.8" stroke="#444444" stroke-width="0.8" />
<line x1="385.6" y1="256.1" x2="385.6" y2="331.8" stroke="#5a5a5a" stroke-width="0.7" />
<text transform="translate(382.0 294.6) rotate(-90) scale(0.78 1)" font-size="6.14" fill="#484848" text-anchor="middle" dominant-baseline="central" font-family="'Liberation Sans', sans-serif" font-weight="normal" font-style="normal" stroke="#484848" stroke-width="0.22" >40</text>
<line x1="396.1" y1="256.1" x2="396.1" y2="331.8" stroke="#454545" stroke-width="1.2" />
<line x1="400.4" y1="256.1" x2="400.4" y2="349.6" stroke="#444444" stroke-width="0.85" />
<line x1="501.7" y1="256.1" x2="501.7" y2="349.6" stroke="#444444" stroke-width="0.8" />
<line x1="496.8" y1="256.1" x2="496.8" y2="331.8" stroke="#444444" stroke-width="0.8" stroke-dasharray="3.2 2"/>
<line x1="400.4" y1="346.7" x2="501.5" y2="346.7" stroke="#5a5a5a" stroke-width="0.7" />
<text transform="translate(420.4 341.6) scale(0.78 1)" font-size="5.89" fill="#484848" text-anchor="start" dominant-baseline="central" font-family="'Liberation Sans', sans-serif" font-weight="normal" font-style="normal" stroke="#484848" stroke-width="0.22" textLength="62" lengthAdjust="spacingAndGlyphs">A=59.3,  B=70.3,  C=81.7</text>
<path d="M607.2 225.8H610.2M606.3 227.1H610.2M607.2 229.6H610.2M607.9 225.8V231.2M607.1 227.7V231.2M610.2 227.1V232.2M611.4 225.8H616.0M611.4 228.4H616.0M612.1 232.2H616.0M611.4 227.7V231.2M614.5 225.8V232.2M613.7 228.4L616.0 232.2M617.2 228.4H621.8M618.8 229.6H621.8M618.8 230.9H621.8M617.2 232.2H621.1M621.8 225.8V231.2M618.7 227.1V232.2M619.5 228.4L621.8 232.2" stroke="#4a4a4a" stroke-width="0.96" fill="none"/>
<text transform="translate(625.8 229.0) scale(0.78 1)" font-size="7.68" fill="#484848" text-anchor="middle" dominant-baseline="central" font-family="'Liberation Sans', sans-serif" font-weight="normal" font-style="normal" stroke="#484848" stroke-width="0.22" >D</text>
<path d="M630.7 225.8H634.6M630.0 227.1H633.5M631.6 228.4H634.6M630.0 229.6H634.6M633.1 227.1V231.2M631.5 227.1V232.2M632.3 225.8V231.2M632.3 228.4L634.6 232.2M635.8 227.1H639.3M637.4 229.6H640.4M635.8 230.9H639.7M638.1 225.8V232.2M638.9 225.8V232.2M638.1 228.4L635.8 232.2M638.1 228.4L640.4 232.2" stroke="#4a4a4a" stroke-width="0.96" fill="none"/>
<line x1="603.1" y1="234.8" x2="646.0" y2="234.8" stroke="#444444" stroke-width="0.9" />
<line x1="603.1" y1="236.6" x2="646.0" y2="236.6" stroke="#444444" stroke-width="0.5" />
<text transform="translate(624.1 242.2) scale(0.78 1)" font-size="6.91" fill="#484848" text-anchor="middle" dominant-baseline="central" font-family="'Liberation Sans', sans-serif" font-weight="normal" font-style="normal" stroke="#484848" stroke-width="0.22" >1 : 10</text>
<line x1="533.1" y1="257.3" x2="711.0" y2="257.3" stroke="#444444" stroke-width="0.8" />
<line x1="533.1" y1="331.7" x2="711.0" y2="331.7" stroke="#444444" stroke-width="0.8" />
<line x1="537.1" y1="257.3" x2="537.1" y2="331.7" stroke="#5a5a5a" stroke-width="0.7" />
<text transform="translate(532.6 293.8) rotate(-90) scale(0.78 1)" font-size="6.14" fill="#484848" text-anchor="middle" dominant-baseline="central" font-family="'Liberation Sans', sans-serif" font-weight="normal" font-style="normal" stroke="#484848" stroke-width="0.22" >40</text>
<line x1="546.7" y1="257.3" x2="546.7" y2="344.8" stroke="#444444" stroke-width="0.8" />
<line x1="711.0" y1="257.3" x2="711.0" y2="344.8" stroke="#444444" stroke-width="0.8" />
<line x1="552.9" y1="257.3" x2="552.9" y2="331.7" stroke="#484848" stroke-width="1.9" />
<line x1="574.8" y1="257.3" x2="574.8" y2="331.7" stroke="#444444" stroke-width="0.8" />
<line x1="682.7" y1="257.3" x2="682.7" y2="331.7" stroke="#444444" stroke-width="0.8" />
<line x1="704.6" y1="257.3" x2="704.6" y2="331.7" stroke="#484848" stroke-width="1.9" />
<line x1="546.2" y1="341.9" x2="711.0" y2="341.9" stroke="#5a5a5a" stroke-width="0.7" />
<text transform="translate(628.5 338.2) scale(0.78 1)" font-size="6.14" fill="#484848" text-anchor="middle" dominant-baseline="central" font-family="'Liberation Sans', sans-serif" font-weight="normal" font-style="normal" stroke="#484848" stroke-width="0.22" >90.4</text>
<path d="M71.9 381.4H74.0M70.9 382.8H74.5M70.1 385.7H75.3M70.1 388.6H75.3M73.6 382.8V387.5M70.1 382.8V388.6M77.5 381.4H81.9M77.5 382.8H81.1M76.7 384.3H81.9M76.7 387.2H81.9M80.2 382.8V388.6M78.4 381.4V387.5" stroke="#4a4a4a" stroke-width="1.09" fill="none"/>
<text transform="translate(86.4 385.0) scale(0.78 1)" font-size="8.96" fill="#484848" text-anchor="middle" dominant-baseline="central" font-family="'Liberation Sans', sans-serif" font-weight="normal" font-style="normal" stroke="#484848" stroke-width="0.22" >1</text>
<line x1="67.4" y1="389.3" x2="90.9" y2="389.3" stroke="#444444" stroke-width="0.9" />
<line x1="67.4" y1="391.1" x2="90.9" y2="391.1" stroke="#444444" stroke-width="0.5" />
<text transform="translate(78.8 396.2) scale(0.78 1)" font-size="6.91" fill="#484848" text-anchor="middle" dominant-baseline="central" font-family="'Liberation Sans', sans-serif" font-weight="normal" font-style="normal" stroke="#484848" stroke-width="0.22" >1 : 10</text>
<line x1="20.1" y1="424.3" x2="70.3" y2="424.3" stroke="#444444" stroke-width="0.8" />
<path d="M47.4 414.7 L47.4 420.8 L45.0 427.4 L49.8 421.4 L47.4 428.0 L47.4 434.0" stroke="#444444" stroke-width="0.7" fill="none" />
<line x1="37.0" y1="424.3" x2="55.9" y2="462.2" stroke="#444444" stroke-width="0.9" />
<line x1="55.9" y1="424.3" x2="74.7" y2="461.0" stroke="#444444" stroke-width="0.9" />
<path d="M74.7 459.8 L119.8 459.8" stroke="#444444" stroke-width="0.9" fill="none" />
<path d="M47.4 454.5 L47.4 477.4 L119.8 477.4" stroke="#444444" stroke-width="0.9" fill="none" />
<path d="M47.4 459.8 L52.0 459.8" stroke="#444444" stroke-width="0.8" fill="none" />
<path d="M55.9 462.2 L70.2 462.2 L74.7 459.8" stroke="#444444" stroke-width="0.8" fill="none" />
<line x1="119.8" y1="444.8" x2="119.8" y2="489.5" stroke="#444444" stroke-width="0.7" />
<path d="M119.8 463.5 L110.0 467.6 L129.0 465.4 L119.8 469.4" stroke="#444444" stroke-width="0.6" fill="none" />
<circle cx="76.4" cy="460.5" r="6.8" fill="none" stroke="#444" stroke-width="0.7"/>
<text transform="translate(82.6 445.4) scale(0.78 1)" font-size="5.12" fill="#484848" text-anchor="start" dominant-baseline="central" font-family="'Liberation Sans', sans-serif" font-weight="normal" font-style="normal" stroke="#484848" stroke-width="0.22" >5</text>
<path d="M86.9 443.2H89.0M86.3 445.0H88.5M85.8 446.7H88.5M89.0 444.1V447.6M87.4 443.2V447.6M87.4 445.0L85.8 447.6M90.9 443.2H93.0M90.3 444.1H93.0M89.8 445.8H93.0M89.8 446.7H93.0M91.9 443.2V447.6M89.8 444.5V447.6M91.4 445.0L89.8 447.6M91.4 445.0L93.0 447.6M93.8 445.8H96.5M93.8 446.7H97.0M94.9 447.6H96.5M95.9 443.2V446.9M93.8 443.2V447.6M95.4 445.0L93.8 447.6M98.3 443.2H100.2M98.9 444.1H101.0M98.9 445.0H101.0M97.8 445.8H100.5M98.3 447.6H100.2M99.9 444.1V447.6M98.9 443.2V447.6M99.4 445.0L97.8 447.6" stroke="#4a4a4a" stroke-width="0.66" fill="none"/>
<line x1="82.4" y1="448.4" x2="102.9" y2="448.4" stroke="#444444" stroke-width="0.6" />
<line x1="82.4" y1="448.4" x2="77.6" y2="456.9" stroke="#444444" stroke-width="0.6" />
<line x1="42.6" y1="451.6" x2="59.5" y2="451.6" stroke="#5a5a5a" stroke-width="0.6" />
<line x1="49.1" y1="447.2" x2="49.1" y2="455.7" stroke="#5a5a5a" stroke-width="0.6" />
<line x1="53.0" y1="447.2" x2="53.0" y2="455.7" stroke="#5a5a5a" stroke-width="0.6" />
<text transform="translate(51.4 447.0) scale(0.78 1)" font-size="5.63" fill="#484848" text-anchor="middle" dominant-baseline="central" font-family="'Liberation Sans', sans-serif" font-weight="normal" font-style="normal" stroke="#484848" stroke-width="0.22" >1</text>
<line x1="36.6" y1="453.3" x2="36.6" y2="469.0" stroke="#5a5a5a" stroke-width="0.6" />
<line x1="30.5" y1="459.8" x2="48.6" y2="459.8" stroke="#5a5a5a" stroke-width="0.6" />
<line x1="30.5" y1="462.9" x2="48.6" y2="462.9" stroke="#5a5a5a" stroke-width="0.6" />
<text transform="translate(28.2 461.2) rotate(-90) scale(0.78 1)" font-size="5.89" fill="#484848" text-anchor="middle" dominant-baseline="central" font-family="'Liberation Sans', sans-serif" font-weight="normal" font-style="normal" stroke="#484848" stroke-width="0.22" >2</text>
<line x1="55.9" y1="461.7" x2="55.9" y2="472.6" stroke="#5a5a5a" stroke-width="0.6" />
<line x1="74.7" y1="461.7" x2="74.7" y2="472.6" stroke="#5a5a5a" stroke-width="0.6" />
<line x1="51.0" y1="469.0" x2="66.7" y2="469.0" stroke="#5a5a5a" stroke-width="0.6" />
<line x1="69.1" y1="469.0" x2="83.6" y2="469.0" stroke="#5a5a5a" stroke-width="0.6" />
<text transform="translate(61.4 466.4) scale(0.78 1)" font-size="5.38" fill="#484848" text-anchor="middle" dominant-baseline="central" font-family="'Liberation Sans', sans-serif" font-weight="normal" font-style="normal" stroke="#484848" stroke-width="0.22" >0.5</text>
<text transform="translate(81.6 466.4) scale(0.78 1)" font-size="5.38" fill="#484848" text-anchor="middle" dominant-baseline="central" font-family="'Liberation Sans', sans-serif" font-weight="normal" font-style="normal" stroke="#484848" stroke-width="0.22" >0.5</text>
<path d="M302.8 392.2H305.4M301.0 393.5H304.9M302.8 396.2H305.4M302.7 390.9V396.5M306.2 390.9V397.5M303.6 393.5L306.2 397.5" stroke="#4a4a4a" stroke-width="1.06" fill="none"/>
<text transform="translate(307.4 394.2) scale(0.78 1)" font-size="8.45" fill="#484848" text-anchor="start" dominant-baseline="central" font-family="'Liberation Sans', sans-serif" font-weight="normal" font-style="normal" stroke="#484848" stroke-width="0.22" >2</text>
<path d="M313.8 392.2H317.2M313.8 393.5H317.2M312.0 396.2H317.2M312.0 390.9V396.5M315.5 390.9V396.5M319.4 392.2H323.3M319.4 394.9H324.6M320.2 397.5H324.6M321.1 392.2V397.5M319.4 390.9V396.5M322.0 393.5L324.6 397.5M326.8 390.9H332.0M327.6 392.2H332.0M327.6 394.9H331.2M326.8 397.5H331.2M328.5 392.2V396.5M329.4 392.9V397.5M329.4 393.5L332.0 397.5M334.2 390.9H338.6M335.0 393.5H339.4M336.0 394.9H339.4M336.0 396.2H339.4M337.7 390.9V397.5M334.2 390.9V397.5M336.8 393.5L339.4 397.5M342.4 392.2H345.5M341.6 393.5H346.8M342.4 394.9H346.8M343.4 396.2H345.5M341.6 390.9V396.5M346.8 392.9V397.5M349.8 390.9H354.2M349.8 392.2H354.2M349.0 394.9H354.2M349.0 396.2H353.4M352.5 392.9V397.5M351.6 392.2V397.5M354.2 390.9V397.5M351.6 393.5L354.2 397.5" stroke="#4a4a4a" stroke-width="1.06" fill="none"/>
<line x1="299.0" y1="399.4" x2="357.5" y2="399.4" stroke="#444444" stroke-width="0.9" />
<line x1="299.0" y1="401.2" x2="357.5" y2="401.2" stroke="#444444" stroke-width="0.5" />
<rect x="147.2" y="408.3" width="391.4" height="54.4" fill="none" stroke="#585858" stroke-width="0.95"/>
<line x1="182.8" y1="408.3" x2="182.8" y2="462.7" stroke="#6e6e6e" stroke-width="0.7" />
<line x1="210.6" y1="419.4" x2="210.6" y2="462.7" stroke="#6e6e6e" stroke-width="0.7" />
<line x1="238.9" y1="419.4" x2="238.9" y2="462.7" stroke="#6e6e6e" stroke-width="0.7" />
<line x1="267.0" y1="419.4" x2="267.0" y2="462.7" stroke="#6e6e6e" stroke-width="0.7" />
<line x1="295.4" y1="419.4" x2="295.4" y2="462.7" stroke="#6e6e6e" stroke-width="0.7" />
<line x1="323.6" y1="408.3" x2="323.6" y2="462.7" stroke="#6e6e6e" stroke-width="0.7" />
<line x1="367.1" y1="408.3" x2="367.1" y2="462.7" stroke="#6e6e6e" stroke-width="0.7" />
<line x1="395.8" y1="408.3" x2="395.8" y2="462.7" stroke="#6e6e6e" stroke-width="0.7" />
<line x1="422.7" y1="408.3" x2="422.7" y2="462.7" stroke="#6e6e6e" stroke-width="0.7" />
<line x1="450.7" y1="408.3" x2="450.7" y2="462.7" stroke="#6e6e6e" stroke-width="0.7" />
<line x1="182.8" y1="419.4" x2="323.6" y2="419.4" stroke="#6e6e6e" stroke-width="0.7" />
<line x1="147.2" y1="430.5" x2="538.6" y2="430.5" stroke="#6e6e6e" stroke-width="0.7" />
<line x1="147.2" y1="441.1" x2="422.7" y2="441.1" stroke="#6e6e6e" stroke-width="0.7" />
<line x1="147.2" y1="451.7" x2="422.7" y2="451.7" stroke="#6e6e6e" stroke-width="0.7" />
<path d="M155.2 416.9H159.5M155.8 418.0H158.4M155.8 420.1H159.5M157.3 416.9V421.5M159.5 416.9V421.5M158.1 416.9V422.3M160.7 418.0H165.0M161.3 419.1H164.4M161.3 422.3H165.0M165.0 418.0V422.3M163.6 418.0V421.5M162.8 419.1L160.7 422.3M166.8 416.9H170.5M166.2 418.0H170.5M166.2 419.1H169.4M167.7 421.2H169.4M170.5 416.9V421.5M168.3 416.9V422.3M168.3 419.1L166.2 422.3M168.3 419.1L170.5 422.3M171.7 416.9H175.4M172.3 419.1H174.9M172.3 420.1H174.9M171.7 421.2H174.9M172.3 422.3H176.0M173.8 416.9V421.5M171.7 418.0V422.3M173.8 419.1L176.0 422.3" stroke="#5c5c5c" stroke-width="0.91" fill="none"/>
<text transform="translate(229.4 413.8) scale(0.9 1)" font-size="6.91" fill="#5c5c5c" text-anchor="start" dominant-baseline="central" font-family="'Liberation Sans', sans-serif" font-weight="normal" font-style="normal" stroke="#5c5c5c" stroke-width="0.22" >C25</text>
<path d="M240.9 412.2H245.3M240.9 413.3H245.3M240.9 414.3H245.3M240.9 416.5H245.3M243.1 411.1V416.5M242.4 411.1V415.7M240.9 412.2V416.5M243.1 413.3L240.9 416.5M243.1 413.3L245.3 416.5M247.0 414.3H250.7M246.3 415.4H249.6M246.3 416.5H250.7M250.7 412.7V416.5M248.5 412.7V416.5M247.8 411.1V416.5M251.7 413.3H256.1M251.7 414.3H256.1M251.7 415.4H256.1M251.7 412.7V416.5M253.9 411.1V415.7M253.2 412.2V416.5M253.9 413.3L256.1 416.5" stroke="#5c5c5c" stroke-width="0.89" fill="none"/>
<text transform="translate(257.6 413.8) scale(0.9 1)" font-size="6.66" fill="#5c5c5c" text-anchor="start" dominant-baseline="central" font-family="'Liberation Sans', sans-serif" font-weight="normal" font-style="normal" stroke="#5c5c5c" stroke-width="0.22" >( m³ )</text>
<path d="M187.8 422.6H190.6M187.8 424.7H191.2M187.8 425.7H191.2M188.6 426.7H191.2M189.2 422.6V427.8M188.5 422.6V427.8M191.2 422.6V427.8M189.2 424.7L187.2 427.8M192.2 422.6H196.2M192.2 423.7H195.6M192.2 424.7H195.2M193.6 425.7H196.2M192.8 426.7H195.2M193.5 422.6V427.8M194.2 422.6V427.8M198.6 422.6H201.2M197.2 423.7H200.6M197.2 425.7H200.6M198.6 426.7H201.2M199.2 423.7V427.8M198.5 423.7V427.8" stroke="#5c5c5c" stroke-width="0.83" fill="none"/>
<text transform="translate(204.1 425.2) scale(0.9 1)" font-size="6.40" fill="#5c5c5c" text-anchor="middle" dominant-baseline="central" font-family="'Liberation Sans', sans-serif" font-weight="normal" font-style="normal" stroke="#5c5c5c" stroke-width="0.22" >A</text>
<path d="M215.8 422.6H219.2M215.8 423.7H219.2M216.7 424.7H219.2M215.2 425.7H218.7M216.7 427.8H219.2M215.2 423.7V427.8M216.6 424.2V427.8M217.2 424.2V427.8M217.2 424.7L219.2 427.8M220.2 422.6H223.7M220.2 423.7H223.7M220.2 427.8H224.2M222.9 424.2V427.8M220.2 424.2V427.8M222.2 424.7L224.2 427.8M225.2 422.6H229.2M226.7 423.7H229.2M225.2 426.7H229.2M225.2 422.6V427.8M229.2 422.6V427.0M227.2 424.7L225.2 427.8M227.2 424.7L229.2 427.8" stroke="#5c5c5c" stroke-width="0.83" fill="none"/>
<text transform="translate(232.2 425.2) scale(0.9 1)" font-size="6.40" fill="#5c5c5c" text-anchor="middle" dominant-baseline="central" font-family="'Liberation Sans', sans-serif" font-weight="normal" font-style="normal" stroke="#5c5c5c" stroke-width="0.22" >B</text>
<path d="M244.8 422.6H247.4M244.0 423.7H247.4M243.4 424.7H247.4M244.0 426.7H247.4M243.4 427.8H246.8M243.4 422.6V427.0M247.4 422.6V427.8M249.8 422.6H251.8M249.0 424.7H251.4M249.0 426.7H251.4M249.8 427.8H251.8M251.1 424.2V427.8M252.4 424.2V427.8M248.4 422.6V427.8M253.4 422.6H257.4M253.4 425.7H257.4M253.4 426.7H256.4M254.0 427.8H256.4M255.4 422.6V427.8M256.1 424.2V427.0M257.4 423.7V427.0M255.4 424.7L257.4 427.8" stroke="#5c5c5c" stroke-width="0.83" fill="none"/>
<text transform="translate(260.3 425.2) scale(0.9 1)" font-size="6.40" fill="#5c5c5c" text-anchor="middle" dominant-baseline="central" font-family="'Liberation Sans', sans-serif" font-weight="normal" font-style="normal" stroke="#5c5c5c" stroke-width="0.22" >C</text>
<path d="M272.3 422.6H275.1M271.7 424.7H275.7M272.3 425.7H275.1M273.1 427.8H275.1M275.7 422.6V427.8M274.4 422.6V427.0M273.7 423.7V427.0M273.7 424.7L271.7 427.8M273.7 424.7L275.7 427.8M278.1 423.7H280.7M276.7 424.7H280.1M278.1 426.7H280.1M278.1 427.8H280.7M278.0 424.2V427.8M278.7 423.7V427.8M282.3 422.6H284.7M281.7 423.7H284.7M283.1 424.7H285.7M281.7 425.7H285.7M283.0 422.6V427.0M283.7 423.7V427.0M285.7 423.7V427.8M283.7 424.7L281.7 427.8" stroke="#5c5c5c" stroke-width="0.83" fill="none"/>
<text transform="translate(288.6 425.2) scale(0.9 1)" font-size="6.40" fill="#5c5c5c" text-anchor="middle" dominant-baseline="central" font-family="'Liberation Sans', sans-serif" font-weight="normal" font-style="normal" stroke="#5c5c5c" stroke-width="0.22" >D</text>
<path d="M303.0 422.6H306.4M303.6 424.7H306.4M303.6 426.7H307.0M305.7 424.2V427.8M303.0 422.6V427.8M305.0 424.7L303.0 427.8" stroke="#5c5c5c" stroke-width="0.83" fill="none"/>
<path d="M312.4 422.6H315.8M313.8 423.7H315.4M313.0 424.7H315.8M312.4 425.7H315.4M312.4 427.8H316.4M316.4 422.6V427.8M314.4 422.6V427.8M312.4 424.2V427.8M314.4 424.7L312.4 427.8" stroke="#5c5c5c" stroke-width="0.83" fill="none"/>
<text transform="translate(156.6 436.2) scale(0.78 1)" font-size="6.66" fill="#5c5c5c" text-anchor="start" dominant-baseline="central" font-family="'Liberation Sans', sans-serif" font-weight="normal" font-style="normal" stroke="#5c5c5c" stroke-width="0.22" >II</text>
<line x1="156.3" y1="433.2" x2="160.0" y2="433.2" stroke="#5c5c5c" stroke-width="0.5" />
<line x1="156.3" y1="439.2" x2="160.0" y2="439.2" stroke="#5c5c5c" stroke-width="0.5" />
<text transform="translate(161.6 436.2) scale(0.9 1)" font-size="6.91" fill="#5c5c5c" text-anchor="start" dominant-baseline="central" font-family="'Liberation Sans', sans-serif" font-weight="normal" font-style="normal" stroke="#5c5c5c" stroke-width="0.22" >−1</text>
<path d="M172.9 433.5H174.7M172.9 436.7H174.7M171.4 437.8H175.8M174.4 433.5V438.1M175.8 433.5V438.1M173.6 435.7L171.4 438.9M173.6 435.7L175.8 438.9" stroke="#5c5c5c" stroke-width="0.92" fill="none"/>
<text transform="translate(156.6 446.6) scale(0.78 1)" font-size="6.66" fill="#5c5c5c" text-anchor="start" dominant-baseline="central" font-family="'Liberation Sans', sans-serif" font-weight="normal" font-style="normal" stroke="#5c5c5c" stroke-width="0.22" >II</text>
<line x1="156.3" y1="443.6" x2="160.0" y2="443.6" stroke="#5c5c5c" stroke-width="0.5" />
<line x1="156.3" y1="449.6" x2="160.0" y2="449.6" stroke="#5c5c5c" stroke-width="0.5" />
<text transform="translate(161.6 446.6) scale(0.9 1)" font-size="6.91" fill="#5c5c5c" text-anchor="start" dominant-baseline="central" font-family="'Liberation Sans', sans-serif" font-weight="normal" font-style="normal" stroke="#5c5c5c" stroke-width="0.22" >−2</text>
<path d="M171.4 443.9H175.8M171.4 445.0H175.8M171.4 446.1H175.8M172.9 447.1H175.8M171.4 448.2H174.7M172.8 445.5V449.3M173.6 445.5V448.5M173.6 446.1L171.4 449.3" stroke="#5c5c5c" stroke-width="0.92" fill="none"/>
<text transform="translate(156.6 457.2) scale(0.78 1)" font-size="6.66" fill="#5c5c5c" text-anchor="start" dominant-baseline="central" font-family="'Liberation Sans', sans-serif" font-weight="normal" font-style="normal" stroke="#5c5c5c" stroke-width="0.22" >II</text>
<line x1="156.3" y1="454.2" x2="160.0" y2="454.2" stroke="#5c5c5c" stroke-width="0.5" />
<line x1="156.3" y1="460.2" x2="160.0" y2="460.2" stroke="#5c5c5c" stroke-width="0.5" />
<text transform="translate(161.6 457.2) scale(0.9 1)" font-size="6.91" fill="#5c5c5c" text-anchor="start" dominant-baseline="central" font-family="'Liberation Sans', sans-serif" font-weight="normal" font-style="normal" stroke="#5c5c5c" stroke-width="0.22" >−3</text>
<path d="M172.0 455.6H175.8M171.4 456.7H175.8M172.0 459.9H175.2M173.6 455.6V459.1M174.4 455.6V459.1M173.6 456.7L171.4 459.9" stroke="#5c5c5c" stroke-width="0.92" fill="none"/>
<text transform="translate(196.7 436.2) scale(0.95 1)" font-size="6.27" fill="#7a7a7a" text-anchor="middle" dominant-baseline="central" font-family="'Liberation Sans', sans-serif" font-weight="normal" font-style="normal" stroke="#7a7a7a" stroke-width="0.22" >0.28</text>
<line x1="214.0" y1="438.7" x2="235.5" y2="432.9" stroke="#6a6a6a" stroke-width="0.65" />
<line x1="242.3" y1="438.7" x2="263.6" y2="432.9" stroke="#6a6a6a" stroke-width="0.65" />
<text transform="translate(281.2 436.2) scale(0.95 1)" font-size="6.27" fill="#7a7a7a" text-anchor="middle" dominant-baseline="central" font-family="'Liberation Sans', sans-serif" font-weight="normal" font-style="normal" stroke="#7a7a7a" stroke-width="0.22" >0.18</text>
<text transform="translate(309.5 436.2) scale(0.95 1)" font-size="6.27" fill="#7a7a7a" text-anchor="middle" dominant-baseline="central" font-family="'Liberation Sans', sans-serif" font-weight="normal" font-style="normal" stroke="#7a7a7a" stroke-width="0.22" >0.46</text>
<text transform="translate(345.4 436.2) scale(0.95 1)" font-size="6.27" fill="#7a7a7a" text-anchor="middle" dominant-baseline="central" font-family="'Liberation Sans', sans-serif" font-weight="normal" font-style="normal" stroke="#7a7a7a" stroke-width="0.22" >0.24</text>
<text transform="translate(381.5 436.2) scale(0.95 1)" font-size="6.27" fill="#7a7a7a" text-anchor="middle" dominant-baseline="central" font-family="'Liberation Sans', sans-serif" font-weight="normal" font-style="normal" stroke="#7a7a7a" stroke-width="0.22" >0.52</text>
<text transform="translate(409.2 436.2) scale(0.95 1)" font-size="6.27" fill="#7a7a7a" text-anchor="middle" dominant-baseline="central" font-family="'Liberation Sans', sans-serif" font-weight="normal" font-style="normal" stroke="#7a7a7a" stroke-width="0.22" >1.22</text>
<line x1="186.2" y1="449.3" x2="207.2" y2="443.5" stroke="#6a6a6a" stroke-width="0.65" />
<text transform="translate(224.8 446.6) scale(0.95 1)" font-size="6.27" fill="#7a7a7a" text-anchor="middle" dominant-baseline="central" font-family="'Liberation Sans', sans-serif" font-weight="normal" font-style="normal" stroke="#7a7a7a" stroke-width="0.22" >0.32</text>
<line x1="242.3" y1="449.3" x2="263.6" y2="443.5" stroke="#6a6a6a" stroke-width="0.65" />
<text transform="translate(281.2 446.6) scale(0.95 1)" font-size="6.27" fill="#7a7a7a" text-anchor="middle" dominant-baseline="central" font-family="'Liberation Sans', sans-serif" font-weight="normal" font-style="normal" stroke="#7a7a7a" stroke-width="0.22" >0.18</text>
<text transform="translate(309.5 446.6) scale(0.95 1)" font-size="6.27" fill="#7a7a7a" text-anchor="middle" dominant-baseline="central" font-family="'Liberation Sans', sans-serif" font-weight="normal" font-style="normal" stroke="#7a7a7a" stroke-width="0.22" >0.50</text>
<text transform="translate(345.4 446.6) scale(0.95 1)" font-size="6.27" fill="#7a7a7a" text-anchor="middle" dominant-baseline="central" font-family="'Liberation Sans', sans-serif" font-weight="normal" font-style="normal" stroke="#7a7a7a" stroke-width="0.22" >0.26</text>
<text transform="translate(381.5 446.6) scale(0.95 1)" font-size="6.27" fill="#7a7a7a" text-anchor="middle" dominant-baseline="central" font-family="'Liberation Sans', sans-serif" font-weight="normal" font-style="normal" stroke="#7a7a7a" stroke-width="0.22" >0.57</text>
<text transform="translate(409.2 446.6) scale(0.95 1)" font-size="6.27" fill="#7a7a7a" text-anchor="middle" dominant-baseline="central" font-family="'Liberation Sans', sans-serif" font-weight="normal" font-style="normal" stroke="#7a7a7a" stroke-width="0.22" >1.33</text>
<line x1="186.2" y1="460.3" x2="207.2" y2="454.1" stroke="#6a6a6a" stroke-width="0.65" />
<line x1="214.0" y1="460.3" x2="235.5" y2="454.1" stroke="#6a6a6a" stroke-width="0.65" />
<text transform="translate(252.9 457.2) scale(0.95 1)" font-size="6.27" fill="#7a7a7a" text-anchor="middle" dominant-baseline="central" font-family="'Liberation Sans', sans-serif" font-weight="normal" font-style="normal" stroke="#7a7a7a" stroke-width="0.22" >0.37</text>
<text transform="translate(281.2 457.2) scale(0.95 1)" font-size="6.27" fill="#7a7a7a" text-anchor="middle" dominant-baseline="central" font-family="'Liberation Sans', sans-serif" font-weight="normal" font-style="normal" stroke="#7a7a7a" stroke-width="0.22" >0.18</text>
<text transform="translate(309.5 457.2) scale(0.95 1)" font-size="6.27" fill="#7a7a7a" text-anchor="middle" dominant-baseline="central" font-family="'Liberation Sans', sans-serif" font-weight="normal" font-style="normal" stroke="#7a7a7a" stroke-width="0.22" >0.55</text>
<text transform="translate(345.4 457.2) scale(0.95 1)" font-size="6.27" fill="#7a7a7a" text-anchor="middle" dominant-baseline="central" font-family="'Liberation Sans', sans-serif" font-weight="normal" font-style="normal" stroke="#7a7a7a" stroke-width="0.22" >0.28</text>
<text transform="translate(381.5 457.2) scale(0.95 1)" font-size="6.27" fill="#7a7a7a" text-anchor="middle" dominant-baseline="central" font-family="'Liberation Sans', sans-serif" font-weight="normal" font-style="normal" stroke="#7a7a7a" stroke-width="0.22" >0.62</text>
<text transform="translate(409.2 457.2) scale(0.95 1)" font-size="6.27" fill="#7a7a7a" text-anchor="middle" dominant-baseline="central" font-family="'Liberation Sans', sans-serif" font-weight="normal" font-style="normal" stroke="#7a7a7a" stroke-width="0.22" >1.45</text>
<text transform="translate(436.7 457.2) scale(0.95 1)" font-size="6.27" fill="#7a7a7a" text-anchor="middle" dominant-baseline="central" font-family="'Liberation Sans', sans-serif" font-weight="normal" font-style="normal" stroke="#7a7a7a" stroke-width="0.22" >0.16</text>
<text transform="translate(327.9 415.2) scale(0.9 1)" font-size="6.66" fill="#5c5c5c" text-anchor="start" dominant-baseline="central" font-family="'Liberation Sans', sans-serif" font-weight="normal" font-style="normal" stroke="#5c5c5c" stroke-width="0.22" >M10</text>
<path d="M340.8 413.7H342.4M340.0 414.7H342.8M339.4 417.8H343.4M340.7 414.2V417.0M341.4 414.2V417.0M341.4 414.7L343.4 417.8M345.0 412.6H348.4M344.4 413.7H347.4M345.0 414.7H348.4M345.0 415.7H348.4M346.4 412.6V417.0M345.7 414.2V417.8M349.4 412.6H353.4M349.4 413.7H353.4M350.8 415.7H353.4M353.4 414.2V417.8M350.7 413.7V417.8M351.4 414.7L353.4 417.8M354.4 412.6H358.4M354.4 415.7H358.4M355.8 416.7H358.4M356.4 414.2V417.8M357.0 412.6V417.0M358.4 412.6V417.8M356.4 414.7L354.4 417.8" stroke="#5c5c5c" stroke-width="0.83" fill="none"/>
<path d="M372.6 413.7H375.4M372.6 414.7H376.0M372.0 416.7H376.0M372.0 414.2V417.8M374.0 413.7V417.8M378.4 413.7H380.4M378.4 415.7H381.0M377.0 416.7H380.4M378.3 413.7V417.8M377.0 413.7V417.8M382.6 413.7H386.0M382.0 414.7H386.0M383.4 415.7H385.4M386.0 412.6V417.0M384.0 412.6V417.8M384.0 414.7L382.0 417.8M388.4 412.6H390.0M387.0 413.7H390.4M387.6 414.7H391.0M387.0 416.7H390.4M391.0 412.6V417.0M389.6 412.6V417.8" stroke="#5c5c5c" stroke-width="0.83" fill="none"/>
<path d="M401.1 412.6H403.8M401.1 416.7H403.1M399.8 417.8H403.1M401.1 412.6V417.8M401.8 412.6V417.0M399.8 414.2V417.8M401.8 414.7L399.8 417.8M401.8 414.7L403.8 417.8M405.4 412.6H408.8M405.4 413.7H407.8M404.8 415.7H408.8M408.8 413.7V417.8M404.8 412.6V417.8M406.8 414.2V417.0M406.8 414.7L404.8 417.8M406.8 414.7L408.8 417.8M409.8 413.7H413.8M409.8 416.7H413.8M411.1 417.8H413.8M411.1 412.6V417.8M409.8 412.6V417.8M412.4 414.2V417.0M411.8 414.7L413.8 417.8M414.8 412.6H418.8M414.8 413.7H418.8M414.8 416.7H418.1M414.8 412.6V417.8M416.1 413.7V417.8" stroke="#5c5c5c" stroke-width="0.83" fill="none"/>
<path d="M428.6 412.6H431.2M427.2 414.7H431.2M427.2 415.7H431.2M429.2 412.6V417.8M428.5 412.6V417.0M429.2 414.7L427.2 417.8M432.8 412.6H436.2M432.2 415.7H436.2M432.2 417.8H435.6M432.2 412.6V417.8M434.2 414.2V417.8M434.2 414.7L432.2 417.8M438.6 412.6H440.6M437.2 413.7H441.2M437.8 415.7H441.2M437.2 416.7H441.2M439.9 412.6V417.8M438.5 414.2V417.0M441.2 413.7V417.8M439.2 414.7L437.2 417.8M439.2 414.7L441.2 417.8M442.2 413.7H445.6M443.6 415.7H446.2M442.2 416.7H445.2M443.6 417.8H445.2M444.2 413.7V417.0M444.9 412.6V417.8M442.2 413.7V417.8" stroke="#5c5c5c" stroke-width="0.83" fill="none"/>
<text transform="translate(345.4 424.8) scale(0.9 1)" font-size="6.40" fill="#5c5c5c" text-anchor="middle" dominant-baseline="central" font-family="'Liberation Sans', sans-serif" font-weight="normal" font-style="normal" stroke="#5c5c5c" stroke-width="0.22" >( m³ )</text>
<text transform="translate(381.5 424.8) scale(0.9 1)" font-size="6.40" fill="#5c5c5c" text-anchor="middle" dominant-baseline="central" font-family="'Liberation Sans', sans-serif" font-weight="normal" font-style="normal" stroke="#5c5c5c" stroke-width="0.22" >( m³ )</text>
<text transform="translate(409.2 424.8) scale(0.9 1)" font-size="6.40" fill="#5c5c5c" text-anchor="middle" dominant-baseline="central" font-family="'Liberation Sans', sans-serif" font-weight="normal" font-style="normal" stroke="#5c5c5c" stroke-width="0.22" >( m³ )</text>
<text transform="translate(436.7 424.8) scale(0.9 1)" font-size="6.40" fill="#5c5c5c" text-anchor="middle" dominant-baseline="central" font-family="'Liberation Sans', sans-serif" font-weight="normal" font-style="normal" stroke="#5c5c5c" stroke-width="0.22" >( m³ )</text>
<path d="M484.6 416.9H486.3M483.2 419.0H487.3M483.2 421.1H487.3M484.6 422.1H487.3M485.2 416.9V422.1M487.3 416.9V422.1M485.2 419.0L483.2 422.1" stroke="#5c5c5c" stroke-width="0.86" fill="none"/>
<path d="M502.2 419.0H506.3M503.6 420.0H506.3M502.2 421.1H506.3M502.2 422.1H506.3M506.3 417.9V421.3M504.2 416.9V421.3" stroke="#5c5c5c" stroke-width="0.86" fill="none"/>
<path d="M471.8 434.5H473.7M471.8 435.3H474.0M471.8 436.2H474.0M472.4 437.0H474.4M473.4 434.5V438.7M474.4 434.5V438.1M472.4 435.8V438.7M472.9 436.2L471.4 438.7M475.2 437.0H477.8M476.2 437.9H478.2M475.2 438.7H477.8M476.2 435.8V438.7M475.2 435.3V438.1M476.7 436.2L478.2 438.7M480.0 434.5H481.3M479.4 436.2H481.6M479.4 437.0H482.0M480.0 437.9H482.0M479.4 438.7H482.0M482.0 434.5V438.7M479.0 434.5V438.1M480.5 436.2L479.0 438.7M480.5 436.2L482.0 438.7M483.2 435.3H485.1M482.8 436.2H485.4M483.8 437.0H485.1M482.8 438.7H485.4M484.8 435.8V438.7M484.3 435.3V438.7M484.3 436.2L482.8 438.7M486.6 435.3H489.6M487.0 437.0H488.9M487.6 437.9H489.6M487.0 438.7H488.9M488.6 434.5V438.7M488.1 435.8V438.7M488.1 436.2L486.6 438.7M490.4 434.5H493.4M491.4 435.3H493.4M490.8 436.2H493.4M490.4 437.9H493.4M491.4 438.7H492.7M491.9 435.8V438.7M492.4 435.3V438.7M491.4 434.5V438.1M494.2 435.3H496.5M494.2 436.2H497.2M494.2 437.0H496.5M495.2 438.7H497.2M495.7 434.5V438.1M495.2 434.5V438.1M494.2 434.5V438.7M498.4 435.3H501.0M498.4 436.2H501.0M498.0 437.0H500.6M498.0 438.7H500.6M501.0 434.5V438.1M498.0 434.5V438.7M499.0 435.3V438.7M499.5 436.2L498.0 438.7M502.8 434.5H504.8M501.8 436.2H504.1M501.8 437.0H504.1M503.3 435.3V438.1M504.8 434.5V438.7M505.6 434.5H508.6M506.0 437.0H507.9M506.0 437.9H508.6M506.0 438.7H508.6M505.6 435.8V438.7M507.6 434.5V438.7M506.6 435.3V438.1M507.1 436.2L508.6 438.7M510.4 435.3H512.4M509.8 437.0H512.4M509.4 437.9H511.7M509.4 438.7H512.0M509.4 435.8V438.7M512.4 434.5V438.7M510.9 436.2L509.4 438.7M513.6 434.5H516.2M514.2 437.0H516.2M513.6 437.9H515.8M513.2 438.7H515.8M514.7 434.5V438.1M513.2 434.5V438.1M514.7 436.2L513.2 438.7" stroke="#5c5c5c" stroke-width="0.63" fill="none"/>
<path d="M466.6 444.1H468.5M467.2 445.8H469.2M466.6 446.6H468.8M467.2 448.3H469.2M469.2 445.4V448.3M467.7 444.9V448.3M471.0 445.8H473.0M471.0 446.6H473.0M470.0 448.3H473.0M471.0 444.1V448.3M472.0 444.1V448.3M471.5 445.8L473.0 448.3M474.8 444.1H476.8M473.8 444.9H476.8M473.8 445.8H476.4M474.8 446.6H476.8M473.8 447.5H476.8M475.8 445.4V448.3M476.8 444.1V448.3M475.3 445.8L473.8 448.3M477.6 446.6H480.6M478.6 447.5H479.9M477.6 448.3H480.6M477.6 444.1V447.7M479.6 444.1V448.3M479.1 445.8L477.6 448.3M482.4 444.1H484.4M481.4 446.6H484.4M482.4 448.3H484.0M482.4 444.1V448.3M483.4 444.1V447.7M482.9 445.8L481.4 448.3M482.9 445.8L484.4 448.3M485.2 444.1H488.2M485.2 444.9H488.2M485.2 445.8H488.2M485.6 447.5H487.5M486.2 448.3H488.2M486.2 445.4V448.3M485.2 444.1V447.7M487.2 444.1V447.7M486.7 445.8L485.2 448.3M486.7 445.8L488.2 448.3M489.0 445.8H492.0M489.0 447.5H492.0M489.0 448.3H491.6M490.5 444.9V448.3M492.0 445.4V447.7M490.5 445.8L492.0 448.3M492.8 444.1H495.8M492.8 447.5H495.1M493.8 448.3H495.1M495.8 444.1V448.3M493.8 444.1V447.7M494.3 444.1V447.7M497.0 444.1H499.6M497.0 444.9H499.2M497.0 445.8H499.6M497.0 447.5H498.9M497.6 444.1V447.7M498.6 445.4V447.7M500.4 444.1H503.0M500.4 444.9H503.0M500.8 445.8H503.4M500.4 447.5H503.0M503.4 444.1V448.3M501.4 444.9V448.3M501.9 445.8L503.4 448.3M504.2 444.1H506.5M504.2 444.9H507.2M504.2 445.8H506.8M504.2 446.6H506.8M505.2 448.3H507.2M507.2 444.1V447.7M506.2 444.9V448.3M505.7 445.8L504.2 448.3M505.7 445.8L507.2 448.3M508.0 444.1H511.0M508.0 444.9H510.3M508.4 445.8H511.0M508.0 444.1V448.3M511.0 444.1V448.3M512.2 444.1H514.4M512.8 445.8H514.1M511.8 446.6H514.1M511.8 447.5H514.1M512.2 448.3H514.4M511.8 444.1V448.3M513.8 444.1V448.3M513.3 445.8L514.8 448.3M515.6 444.1H518.2M516.0 444.9H518.6M515.6 447.5H518.6M515.6 445.4V448.3M518.6 444.1V447.7M517.1 445.8L518.6 448.3M519.8 444.1H522.4M519.4 444.9H522.0M519.8 445.8H522.0M519.8 446.6H522.4M519.4 444.9V448.3M520.4 444.1V448.3M522.4 444.1V448.3" stroke="#5c5c5c" stroke-width="0.63" fill="none"/>
<path d="M462.4 454.8H465.5M462.4 455.6H464.7M462.9 457.3H465.5M462.4 454.3V457.3M464.5 453.1V457.3M463.9 454.8L462.4 457.3M467.4 453.1H469.4M466.3 455.6H468.6M467.4 457.3H469.4M467.3 453.9V457.3M466.3 454.3V457.3M467.8 454.8L466.3 457.3M467.8 454.8L469.4 457.3M471.3 453.1H473.3M471.3 453.9H473.3M470.2 456.5H472.5M470.2 453.1V456.7M471.2 453.9V457.3M471.8 453.1V457.3M471.8 454.8L470.2 457.3M474.6 453.1H477.2M474.1 453.9H476.7M474.6 456.5H477.2M474.1 457.3H476.4M475.6 453.1V456.7M475.1 453.1V456.7M475.6 454.8L474.1 457.3M478.5 453.1H481.1M479.1 453.9H480.6M478.0 454.8H480.6M478.0 455.6H481.1M478.0 457.3H480.3M478.0 453.1V457.3M480.1 454.3V457.3M481.1 453.1V457.3M481.9 453.1H484.5M483.0 453.9H485.0M481.9 455.6H484.2M485.0 453.1V456.7M484.0 453.1V457.3M483.4 454.8L485.0 457.3M486.9 453.1H488.9M486.3 453.9H488.1M485.8 454.8H488.4M485.8 457.3H488.9M486.8 454.3V457.3M487.3 454.3V457.3M487.3 454.8L485.8 457.3M489.7 453.9H492.3M489.7 454.8H492.8M489.7 455.6H492.0M489.7 456.5H492.8M491.8 453.1V457.3M492.8 453.9V456.7M490.7 454.3V457.3M491.2 454.8L489.7 457.3M494.1 453.1H496.7M493.6 454.8H495.9M493.6 457.3H495.9M496.7 454.3V457.3M493.6 454.3V456.7M497.5 453.9H500.1M498.6 455.6H500.6M498.0 456.5H500.6M498.6 457.3H500.1M499.1 453.1V456.7M497.5 454.3V457.3M500.6 453.9V457.3M499.1 454.8L497.5 457.3M499.1 454.8L500.6 457.3M502.5 453.9H504.5M501.4 454.8H503.7M502.5 455.6H504.5M502.4 453.9V457.3M502.9 454.3V457.3M503.5 453.1V457.3M506.4 453.1H507.6M505.3 453.9H507.6M506.4 456.5H507.9M508.4 454.3V457.3M506.8 453.1V457.3M506.3 453.1V456.7M506.8 454.8L508.4 457.3M509.2 453.1H512.3M509.7 453.9H511.8M509.7 454.8H512.3M509.2 456.5H511.5M512.3 453.1V456.7M509.2 454.3V456.7M511.3 453.9V457.3M510.8 454.8L509.2 457.3M510.8 454.8L512.3 457.3M513.1 453.1H516.2M513.1 453.9H515.7M513.1 457.3H516.2M513.1 453.1V457.3M516.2 453.1V457.3M514.7 454.8L513.1 457.3M517.5 453.9H520.1M517.0 454.8H519.6M517.0 455.6H519.6M517.0 456.5H520.1M517.0 453.9V457.3M518.5 454.3V457.3M520.1 453.1V456.7M521.4 453.9H524.0M520.9 455.6H523.5M520.9 456.5H523.2M520.9 453.1V456.7M521.9 454.3V457.3M522.5 454.8L524.0 457.3M524.8 455.6H527.9M524.8 456.5H527.9M524.8 457.3H527.1M526.3 453.9V456.7M526.9 453.1V457.3M526.3 454.8L524.8 457.3M526.3 454.8L527.9 457.3" stroke="#5c5c5c" stroke-width="0.64" fill="none"/>
<path d="M548.5 386.5H552.7M549.1 387.7H552.1M548.5 388.8H552.7M548.5 390.0H552.7M550.0 392.3H552.1M550.6 387.7V392.3M551.3 387.7V392.3M549.9 387.7V392.3M550.6 388.8L548.5 392.3M550.6 388.8L552.7 392.3M553.7 387.7H557.9M554.3 390.0H557.9M554.3 392.3H556.8M555.8 386.5V391.4M553.7 388.3V392.3M556.5 388.3V392.3M555.8 388.8L553.7 392.3" stroke="#686868" stroke-width="0.86" fill="none"/>
<text transform="translate(559.0 389.4) scale(0.78 1)" font-size="6.40" fill="#686868" text-anchor="middle" dominant-baseline="central" font-family="'Liberation Sans', sans-serif" font-weight="normal" font-style="normal" stroke="#686868" stroke-width="0.22" >:</text>
<text transform="translate(561.0 401.2) scale(0.78 1)" font-size="6.40" fill="#686868" text-anchor="start" dominant-baseline="central" font-family="'Liberation Sans', sans-serif" font-weight="normal" font-style="normal" stroke="#686868" stroke-width="0.22" >1,</text>
<path d="M572.3 400.7H574.4M572.3 401.7H574.4M570.9 403.7H575.0M570.9 398.7V403.7M572.9 398.7V403.7M572.9 400.7L570.9 403.7M576.1 398.7H580.2M577.6 399.7H580.2M576.1 400.7H580.2M576.8 403.7H580.2M576.1 398.7V402.9M580.2 400.2V403.7M577.5 398.7V403.7M578.2 400.7L576.1 403.7M581.4 398.7H585.5M582.0 399.7H584.4M582.8 400.7H585.5M581.4 401.7H584.9M584.1 398.7V402.9M582.7 398.7V403.7M583.4 400.7L581.4 403.7M588.1 398.7H590.7M587.2 399.7H590.1M586.6 400.7H590.1M586.6 401.7H589.7M586.6 399.7V403.7M588.0 399.7V402.9M588.7 400.7L586.6 403.7M588.7 400.7L590.7 403.7M592.5 399.7H595.3M592.5 400.7H594.9M593.3 402.7H595.3M591.9 403.7H595.9M594.6 398.7V402.9M593.2 398.7V403.7M593.9 400.7L595.9 403.7M597.1 398.7H600.6M597.1 400.7H600.6M597.1 401.7H600.6M597.1 403.7H601.2M599.8 400.2V402.9M599.1 398.7V402.9M598.5 399.7V403.7M599.1 400.7L597.1 403.7M599.1 400.7L601.2 403.7M602.3 398.7H606.4M603.8 399.7H606.4M602.3 401.7H605.4M603.8 403.7H605.8M605.1 400.2V403.7M604.4 399.7V402.9M609.0 398.7H610.6M607.6 399.7H611.7M607.6 402.7H611.7M608.2 403.7H611.1M607.6 400.2V403.7M611.7 398.7V403.7M608.9 398.7V403.7M613.4 398.7H615.9M612.8 399.7H615.9M612.8 401.7H615.9M612.8 403.7H616.3M614.9 400.2V402.9M614.2 398.7V402.9M618.1 398.7H621.5M618.1 399.7H622.1M618.1 402.7H622.1M618.1 403.7H621.1M622.1 398.7V403.7M619.4 400.2V403.7M620.1 400.7L618.1 403.7" stroke="#686868" stroke-width="0.70" fill="none"/>
<text transform="translate(561.0 413.8) scale(0.78 1)" font-size="6.40" fill="#686868" text-anchor="start" dominant-baseline="central" font-family="'Liberation Sans', sans-serif" font-weight="normal" font-style="normal" stroke="#686868" stroke-width="0.22" >2,</text>
<path d="M570.9 412.3H573.9M570.9 413.3H574.9M570.9 414.3H574.3M570.9 415.3H574.9M572.9 411.3V416.3M572.2 411.3V416.3M574.9 411.3V415.5M572.9 413.3L570.9 416.3M577.4 411.3H580.0M577.4 413.3H580.0M576.0 414.3H579.0M578.0 411.3V415.5M578.7 411.3V415.5M578.0 413.3L576.0 416.3M582.6 412.3H584.6M582.6 415.3H584.6M581.8 416.3H585.2M582.5 411.3V416.3M583.9 412.3V416.3M581.2 412.3V416.3M583.2 413.3L581.2 416.3M587.7 411.3H590.3M586.3 412.3H590.3M586.3 413.3H589.7M587.7 414.3H590.3M587.7 416.3H590.3M589.0 412.3V415.5M588.3 412.8V415.5M588.3 413.3L586.3 416.3M592.1 411.3H594.5M592.9 412.3H594.9M591.5 413.3H595.5M591.5 415.3H594.9M592.9 416.3H594.9M595.5 411.3V415.5M592.8 412.8V415.5M594.2 411.3V416.3M593.5 413.3L591.5 416.3M598.0 413.3H599.6M597.2 414.3H600.0M596.6 415.3H600.0M600.6 412.8V416.3M598.6 412.3V416.3M599.3 412.8V415.5M602.4 411.3H605.8M602.4 413.3H605.2M602.4 414.3H604.8M601.8 416.3H604.8M601.8 411.3V416.3M603.1 411.3V416.3M603.8 413.3L601.8 416.3M603.8 413.3L605.8 416.3M606.9 411.3H610.9M608.3 413.3H610.9M606.9 414.3H609.9M608.3 415.3H609.9M608.2 412.3V416.3M610.9 411.3V416.3M608.9 413.3L606.9 416.3M608.9 413.3L610.9 416.3M612.1 411.3H616.1M612.1 412.3H616.1M612.7 415.3H616.1M612.7 416.3H616.1M614.1 412.8V416.3M614.7 412.8V416.3M614.1 413.3L612.1 416.3M614.1 413.3L616.1 416.3M617.8 412.3H621.2M618.6 415.3H621.2M618.6 416.3H621.2M619.9 412.3V415.5M617.2 412.8V415.5M622.3 411.3H626.3M622.3 412.3H625.7M623.7 414.3H626.3M623.7 415.3H625.3M622.9 416.3H625.3M626.3 412.8V416.3M623.7 412.3V416.3M625.0 411.3V415.5M624.3 413.3L626.3 416.3M628.1 411.3H631.5M628.9 412.3H631.5M627.5 413.3H630.5M627.5 415.3H630.5M628.1 416.3H630.5M627.5 411.3V416.3M631.5 412.8V416.3M629.5 411.3V415.5M632.6 411.3H635.6M633.2 413.3H636.6M632.6 414.3H636.0M633.2 416.3H636.0M636.6 412.3V416.3M635.3 412.3V416.3M637.8 411.3H641.8M638.4 412.3H640.8M637.8 413.3H641.2M637.8 411.3V416.3M640.5 411.3V416.3M639.1 411.3V416.3M642.9 413.3H646.9M642.9 415.3H646.9M643.5 416.3H646.3M644.2 412.8V416.3M646.9 412.3V416.3M644.9 413.3L646.9 416.3M648.1 411.3H652.1M649.5 412.3H651.1M648.7 413.3H652.1M649.5 414.3H652.1M649.5 416.3H651.1M649.4 411.3V415.5M650.1 412.3V416.3M648.1 411.3V416.3M654.6 411.3H656.6M653.2 413.3H656.6M653.2 415.3H656.6M654.6 416.3H657.2M655.9 412.3V416.3M655.2 411.3V416.3M655.2 413.3L657.2 416.3M659.0 411.3H661.8M659.8 413.3H662.4M658.4 414.3H661.8M658.4 415.3H662.4M660.4 411.3V416.3M659.7 411.3V416.3M660.4 413.3L662.4 416.3M664.1 411.3H667.5M663.5 412.3H667.5M664.1 413.3H667.5M664.9 415.3H667.5M664.1 416.3H666.9M663.5 411.3V416.3M666.2 411.3V416.3M664.8 411.3V416.3M665.5 413.3L663.5 416.3M665.5 413.3L667.5 416.3M670.0 412.3H672.6M668.6 413.3H671.6M668.6 414.3H672.0M668.6 415.3H671.6M669.2 416.3H672.6M668.6 412.8V416.3M671.3 412.3V415.5M670.6 413.3L668.6 416.3M670.6 413.3L672.6 416.3M673.8 411.3H677.8M673.8 412.3H677.8M673.8 413.3H677.8M674.4 415.3H677.8M676.5 411.3V415.5M677.8 411.3V416.3M675.1 412.8V416.3M675.8 413.3L673.8 416.3M680.3 411.3H681.9M680.3 412.3H682.3M680.3 413.3H682.9M678.9 411.3V416.3M681.6 411.3V416.3M680.9 413.3L678.9 416.3M680.9 413.3L682.9 416.3M684.7 411.3H688.1M685.5 412.3H688.1M684.1 413.3H688.1M684.7 416.3H687.1M684.1 411.3V415.5M686.8 411.3V416.3M686.1 413.3L684.1 416.3M689.2 411.3H692.6M689.2 413.3H693.2M689.2 416.3H692.2M690.5 412.8V416.3M693.2 412.8V416.3M691.2 413.3L689.2 416.3M694.4 411.3H697.4M694.4 414.3H697.8M695.0 416.3H697.8M696.4 411.3V416.3M698.4 412.8V416.3M699.5 411.3H702.9M699.5 415.3H702.5M700.9 416.3H702.9M699.5 412.8V416.3M702.2 411.3V415.5M704.7 411.3H708.7M704.7 414.3H708.7M704.7 415.3H708.7M706.0 411.3V415.5M704.7 412.3V416.3M706.7 413.3L704.7 416.3" stroke="#686868" stroke-width="0.70" fill="none"/>
<text transform="translate(561.0 424.8) scale(0.78 1)" font-size="6.40" fill="#686868" text-anchor="start" dominant-baseline="central" font-family="'Liberation Sans', sans-serif" font-weight="normal" font-style="normal" stroke="#686868" stroke-width="0.22" >3,</text>
<path d="M572.3 423.3H574.9M570.9 424.3H574.9M570.9 425.3H573.9M570.9 427.3H574.9M572.9 423.8V427.3M570.9 422.3V427.3M573.6 422.3V427.3M572.9 424.3L574.9 427.3M576.0 424.3H579.4M576.0 425.3H579.0M576.6 426.3H580.0M576.6 427.3H579.4M580.0 423.3V426.5M577.3 422.3V426.5M578.0 422.3V427.3M578.0 424.3L576.0 427.3M581.1 424.3H584.1M581.7 426.3H584.1M581.1 427.3H584.1M583.1 422.3V427.3M585.1 423.8V427.3M582.4 422.3V426.5M583.1 424.3L581.1 427.3M583.1 424.3L585.1 427.3M586.2 422.3H590.2M587.6 423.3H589.6M586.8 424.3H590.2M586.8 425.3H590.2M588.2 422.3V427.3M588.9 423.3V427.3M588.2 424.3L586.2 427.3M591.3 422.3H594.7M592.7 424.3H595.3M591.3 425.3H594.7M594.0 423.8V427.3M593.3 423.3V427.3M593.3 424.3L595.3 427.3M596.4 422.3H599.8M596.4 424.3H600.4M596.4 427.3H599.4M597.7 423.3V426.5M600.4 422.3V427.3M602.9 422.3H605.5M602.9 423.3H605.5M602.1 424.3H605.5M602.1 426.3H604.9M601.5 422.3V427.3M602.9 422.3V427.3M603.5 424.3L601.5 427.3M606.7 423.3H610.6M607.2 424.3H610.6M608.0 425.3H610.6M608.0 423.3V427.3M609.3 423.3V427.3M608.6 424.3L610.6 427.3M611.8 423.3H614.7M611.8 425.3H615.1M612.4 426.3H614.7M613.2 427.3H614.7M611.8 423.8V427.3M614.4 422.3V426.5M618.3 422.3H620.8M617.5 423.3H619.8M616.9 424.3H620.8M616.9 425.3H620.8M618.2 422.3V427.3M618.9 423.8V426.5M618.9 424.3L616.9 427.3M623.4 422.3H625.9M622.6 423.3H625.4M622.0 424.3H625.9M623.4 426.3H625.4M625.9 423.3V427.3M624.0 423.3V427.3M624.0 424.3L622.0 427.3M627.1 422.3H630.1M627.1 423.3H630.5M627.1 424.3H630.1M627.1 427.3H631.1M628.4 423.8V427.3M629.7 422.3V427.3M631.1 423.8V427.3M629.1 424.3L631.1 427.3M632.8 422.3H635.2M632.2 423.3H635.2M633.6 425.3H636.2M633.5 422.3V426.5M632.2 422.3V427.3M634.2 422.3V426.5M634.2 424.3L636.2 427.3M637.3 423.3H641.3M637.9 424.3H640.7M637.9 425.3H641.3M637.3 426.3H640.3M637.9 427.3H641.3M640.0 422.3V427.3M641.3 422.3V427.3M639.3 424.3L641.3 427.3M642.4 422.3H646.4M642.4 423.3H645.4M642.4 424.3H645.4M642.4 425.3H646.4M642.4 427.3H645.8M644.4 423.3V427.3M642.4 422.3V427.3M645.1 422.3V426.5M644.4 424.3L646.4 427.3M647.5 424.3H651.5M648.9 425.3H650.9M647.5 426.3H651.5M648.1 427.3H651.5M647.5 422.3V427.3M650.2 423.8V427.3M652.6 423.3H656.6M653.2 424.3H655.6M652.6 426.3H656.6M653.9 423.3V427.3M655.3 423.3V426.5M654.6 424.3L652.6 427.3M659.1 423.3H660.7M657.7 425.3H661.7M659.1 426.3H661.7M659.1 427.3H661.7M659.0 422.3V427.3M659.7 423.3V427.3M664.2 423.3H666.8M663.4 425.3H666.2M662.8 426.3H666.8M662.8 427.3H666.2M662.8 423.8V426.5M665.5 423.8V427.3M664.2 422.3V427.3M664.8 424.3L662.8 427.3M669.3 423.3H671.3M668.0 424.3H671.9M668.0 425.3H671.9M670.6 423.8V426.5M669.3 423.8V427.3M669.9 424.3L668.0 427.3M674.5 422.3H677.0M673.7 425.3H677.0M673.1 426.3H676.4M673.1 422.3V426.5M675.7 422.3V426.5M675.0 424.3L673.1 427.3M675.0 424.3L677.0 427.3M678.2 422.3H682.1M678.2 426.3H682.1M678.8 427.3H681.5M680.2 422.3V427.3M680.8 422.3V427.3M680.2 424.3L682.1 427.3M683.3 422.3H687.2M683.3 425.3H686.7M683.3 427.3H686.3M685.9 422.3V427.3M683.3 422.3V427.3M687.2 423.8V427.3M689.8 422.3H691.4M689.8 424.3H691.8M688.4 425.3H691.4M689.7 422.3V427.3M688.4 422.3V426.5M690.4 424.3L692.4 427.3" stroke="#686868" stroke-width="0.70" fill="none"/>
<text transform="translate(693.4 424.8) scale(0.78 1)" font-size="6.40" fill="#686868" text-anchor="start" dominant-baseline="central" font-family="'Liberation Sans', sans-serif" font-weight="normal" font-style="normal" stroke="#686868" stroke-width="0.22" >4cm.</text>
<path d="M572.3 435.4H574.9M570.9 436.4H573.9M570.9 438.4H574.3M572.3 439.4H574.9M573.6 436.4V440.4M570.9 436.9V440.4M576.0 435.4H580.0M576.6 436.4H580.0M576.6 437.4H579.4M577.3 435.4V440.4M576.0 435.4V439.6M578.7 436.4V439.6M578.0 437.4L576.0 440.4M578.0 437.4L580.0 440.4M581.8 435.4H584.2M582.6 436.4H584.2M581.2 438.4H584.2M581.2 439.4H584.2M581.2 440.4H584.6M583.8 436.4V440.4M585.2 435.4V439.6M583.2 437.4L581.2 440.4M586.9 436.4H589.7M586.3 438.4H590.3M587.7 439.4H590.3M587.6 435.4V440.4M586.3 435.4V440.4M591.4 435.4H594.4M592.0 438.4H595.4M592.8 439.4H594.8M591.4 440.4H594.4M591.4 435.4V439.6M595.4 435.4V439.6M593.4 437.4L591.4 440.4M593.4 437.4L595.4 440.4M596.6 435.4H600.0M598.0 439.4H599.6M597.2 440.4H600.6M596.6 436.9V440.4M600.6 435.4V440.4M598.6 437.4L596.6 440.4M598.6 437.4L600.6 440.4M602.3 437.4H605.7M603.1 438.4H605.7M602.3 439.4H604.7M603.7 436.4V439.6M605.7 435.4V440.4M604.4 436.9V440.4M603.7 437.4L601.7 440.4M603.7 437.4L605.7 440.4M608.2 435.4H610.2M606.8 436.4H609.8M608.2 437.4H610.2M606.8 439.4H610.8M606.8 440.4H610.8M608.8 436.4V440.4M608.1 435.4V440.4M608.8 437.4L606.8 440.4M613.4 435.4H615.0M612.0 436.4H616.0M613.4 437.4H615.0M614.6 436.4V440.4M613.3 436.9V439.6M616.0 436.9V440.4M614.0 437.4L612.0 440.4M614.0 437.4L616.0 440.4M617.1 435.4H621.1M617.1 437.4H620.5M617.7 438.4H620.1M618.5 439.4H620.5M617.7 440.4H620.5M621.1 435.4V440.4M618.4 435.4V439.6M622.2 436.4H625.6M622.8 439.4H625.6M622.2 440.4H625.6M624.9 436.9V440.4M622.2 436.9V440.4M624.2 437.4L622.2 440.4M628.0 435.4H631.4M627.4 436.4H631.4M628.8 438.4H630.4M627.4 440.4H631.4M629.4 435.4V440.4M628.7 435.4V440.4" stroke="#686868" stroke-width="0.70" fill="none"/>
<text transform="translate(632.6 437.9) scale(0.78 1)" font-size="6.40" fill="#686868" text-anchor="start" dominant-baseline="central" font-family="'Liberation Sans', sans-serif" font-weight="normal" font-style="normal" stroke="#686868" stroke-width="0.22" >1cm.</text>
<text transform="translate(561.0 451.0) scale(0.78 1)" font-size="6.40" fill="#686868" text-anchor="start" dominant-baseline="central" font-family="'Liberation Sans', sans-serif" font-weight="normal" font-style="normal" stroke="#686868" stroke-width="0.22" >4,</text>
<path d="M572.3 448.5H574.3M571.5 449.5H573.9M570.9 451.5H574.9M570.9 452.5H574.3M572.3 453.5H574.9M574.9 448.5V452.7M572.9 449.5V452.7M572.9 450.5L570.9 453.5M572.9 450.5L574.9 453.5M577.5 450.5H579.1M577.5 451.5H579.1M576.7 452.5H580.1M576.1 453.5H580.1M577.4 448.5V453.5M580.1 450.0V452.7M578.1 450.5L576.1 453.5M581.2 448.5H584.3M581.2 449.5H585.3M582.7 451.5H585.3M581.2 452.5H584.3M583.9 448.5V453.5M581.2 448.5V452.7M582.6 450.0V453.5M583.3 450.5L581.2 453.5M586.4 448.5H589.4M586.4 449.5H590.4M587.0 451.5H590.4M586.4 452.5H590.4M589.1 450.0V453.5M590.4 448.5V452.7M588.4 450.5L586.4 453.5M588.4 450.5L590.4 453.5M591.6 450.5H594.6M593.0 451.5H595.6M593.0 452.5H595.6M593.0 453.5H595.6M594.3 448.5V452.7M591.6 450.0V453.5M593.6 450.5L591.6 453.5M598.2 448.5H599.8M596.8 449.5H600.2M596.8 450.5H600.2M597.4 451.5H600.8M598.2 452.5H600.8M599.5 450.0V453.5M598.1 448.5V452.7M598.8 450.5L596.8 453.5M601.9 448.5H605.9M602.5 449.5H605.9M603.3 450.5H605.9M605.9 448.5V453.5M603.9 448.5V453.5M604.6 450.0V453.5M603.9 450.5L601.9 453.5M608.5 448.5H611.1M607.1 449.5H611.1M607.1 450.5H610.1M607.1 452.5H610.5M607.7 453.5H611.1M609.8 449.5V452.7M608.4 448.5V452.7M612.3 448.5H616.3M612.9 449.5H616.3M612.3 451.5H616.3M612.9 452.5H616.3M615.0 448.5V453.5M614.3 449.5V452.7M617.4 448.5H620.9M617.4 450.5H621.5M617.4 451.5H621.5M617.4 452.5H620.9M617.4 453.5H620.9M617.4 450.0V452.7M619.5 448.5V453.5M619.5 450.5L617.4 453.5M619.5 450.5L621.5 453.5M622.6 448.5H626.6M624.0 449.5H626.6M622.6 453.5H626.6M622.6 450.0V453.5M625.3 448.5V453.5M624.6 450.5L622.6 453.5M624.6 450.5L626.6 453.5M628.4 450.5H631.8M629.2 451.5H631.8M628.4 452.5H630.8M628.4 453.5H631.2M627.8 449.5V453.5M629.1 449.5V453.5M630.5 450.0V453.5M629.8 450.5L627.8 453.5M634.4 448.5H636.4M634.4 451.5H636.4M634.4 453.5H637.0M637.0 450.0V453.5M634.3 448.5V453.5M638.1 448.5H641.5M639.5 449.5H642.1M638.7 451.5H641.5M639.5 452.5H641.1M642.1 448.5V453.5M640.8 449.5V452.7M640.1 450.5L642.1 453.5M643.9 450.5H647.3M644.7 451.5H647.3M644.7 452.5H646.3M644.6 448.5V453.5M643.3 450.0V453.5M646.0 450.0V453.5M648.5 449.5H652.5M648.5 450.5H651.9M648.5 451.5H651.5M649.9 453.5H651.9M651.2 450.0V453.5M649.8 449.5V453.5M648.5 449.5V453.5M650.5 450.5L652.5 453.5M653.6 449.5H657.7M653.6 450.5H657.1M654.2 452.5H657.7M653.6 453.5H657.7M655.7 450.0V452.7M656.3 448.5V453.5M655.7 450.5L657.7 453.5M658.8 448.5H662.2M659.4 451.5H662.8M658.8 453.5H662.2M661.5 448.5V453.5M660.1 450.0V453.5M658.8 448.5V452.7M660.8 450.5L658.8 453.5M665.4 448.5H668.0M664.0 449.5H667.0M664.6 450.5H668.0M665.4 451.5H668.0M666.0 449.5V452.7M668.0 448.5V452.7M669.2 448.5H672.2M670.6 449.5H672.6M669.8 450.5H672.2M669.2 452.5H673.2M670.5 450.0V452.7M671.2 449.5V452.7M671.2 450.5L673.2 453.5M674.9 448.5H677.3M674.3 451.5H677.3M674.3 452.5H677.3M677.0 449.5V453.5M675.7 448.5V452.7M676.3 450.5L674.3 453.5" stroke="#686868" stroke-width="0.70" fill="none"/>
<text transform="translate(679.0 451.0) scale(0.78 1)" font-size="6.40" fill="#686868" text-anchor="start" dominant-baseline="central" font-family="'Liberation Sans', sans-serif" font-weight="normal" font-style="normal" stroke="#686868" stroke-width="0.22" >5mm</text>
<path d="M691.7 449.5H694.4M691.0 451.5H695.5M691.7 453.5H694.4M691.0 449.5V453.5M695.5 448.5V452.7M693.3 450.5L691.0 453.5M697.5 448.5H700.7M698.4 449.5H700.7M698.4 450.5H700.7M697.5 453.5H700.7M696.8 448.5V453.5M698.3 448.5V453.5M699.9 449.5V453.5M699.1 450.5L696.8 453.5M702.7 448.5H706.6M702.7 450.5H706.6M703.4 452.5H707.3M702.7 453.5H706.1M702.7 450.0V453.5M705.8 449.5V452.7" stroke="#686868" stroke-width="0.70" fill="none"/>
<path d="M570.9 461.0H573.8M572.2 462.0H574.2M570.9 464.0H574.8M574.8 459.0V464.0M570.9 459.0V464.0M572.8 461.0L570.9 464.0M577.3 461.0H579.2M575.9 462.0H579.8M575.9 463.0H578.8M578.5 460.0V464.0M577.2 459.0V464.0M575.9 460.0V464.0M577.8 461.0L575.9 464.0M582.3 459.0H584.8M581.5 460.0H584.8M581.5 464.0H583.8M583.5 460.5V464.0M582.8 460.0V464.0M587.3 459.0H589.8M585.9 460.0H589.2M585.9 463.0H589.8M589.8 460.0V463.2M587.8 459.0V464.0M587.8 461.0L585.9 464.0M591.5 460.0H594.2M591.5 462.0H594.8M590.9 463.0H593.8M590.9 464.0H594.8M592.9 459.0V463.2M593.5 459.0V463.2M592.9 461.0L590.9 464.0M597.3 459.0H598.8M596.5 460.0H599.2M595.9 463.0H598.8M597.9 459.0V464.0M595.9 459.0V463.2M597.2 459.0V464.0M597.9 461.0L595.9 464.0M600.9 460.0H603.8M602.3 461.0H604.8M600.9 462.0H603.8M600.9 463.0H603.8M600.9 464.0H603.8M602.2 460.5V464.0M604.8 460.5V464.0M602.9 461.0L600.9 464.0M602.9 461.0L604.8 464.0M605.9 459.0H609.8M605.9 461.0H609.8M605.9 463.0H609.2M605.9 464.0H609.2M605.9 460.5V464.0M609.8 459.0V464.0M610.9 460.0H613.8M612.3 461.0H614.8M610.9 462.0H614.2M612.2 459.0V464.0M612.9 459.0V464.0M610.9 460.0V463.2M615.9 459.0H618.9M617.3 460.0H619.8M615.9 461.0H619.2M617.3 463.0H618.9M615.9 464.0H618.9M619.8 460.5V464.0M617.9 460.5V464.0M617.9 461.0L615.9 464.0M620.9 459.0H623.9M622.3 461.0H623.9M620.9 462.0H624.8M620.9 459.0V464.0M622.2 459.0V463.2M622.9 461.0L620.9 464.0M626.5 459.0H628.9M627.3 460.0H628.9M626.0 462.0H629.8M626.0 463.0H629.3M627.9 459.0V464.0M628.6 460.5V463.2M627.9 461.0L626.0 464.0M631.0 461.0H634.8M631.0 462.0H633.9M632.3 463.0H634.8M631.0 464.0H634.8M632.9 460.0V464.0M632.2 460.5V463.2M632.9 461.0L634.8 464.0M636.0 459.0H639.3M637.3 461.0H639.8M636.5 462.0H639.8M637.3 463.0H639.8M636.5 464.0H639.8M637.9 460.0V464.0M637.2 460.0V464.0M637.9 461.0L639.8 464.0M641.0 460.0H644.9M642.3 461.0H644.9M641.0 462.0H644.3M641.0 464.0H643.9M643.6 460.5V464.0M644.9 460.0V464.0M642.9 461.0L641.0 464.0M646.0 460.0H648.9M646.6 461.0H649.9M646.0 462.0H649.3M647.3 463.0H649.9M647.3 460.0V464.0M647.9 460.5V464.0M647.9 461.0L646.0 464.0M647.9 461.0L649.9 464.0M651.6 459.0H654.9M651.6 461.0H654.3M651.6 462.0H654.9M654.9 459.0V464.0M651.0 459.0V463.2M652.9 460.0V463.2M652.9 461.0L651.0 464.0" stroke="#686868" stroke-width="0.70" fill="none"/>
<text transform="translate(561.0 474.6) scale(0.78 1)" font-size="6.40" fill="#686868" text-anchor="start" dominant-baseline="central" font-family="'Liberation Sans', sans-serif" font-weight="normal" font-style="normal" stroke="#686868" stroke-width="0.22" >5,</text>
<path d="M571.6 473.1H574.2M570.9 474.1H574.6M571.6 475.1H575.2M572.4 477.1H574.6M573.1 472.1V476.3M570.9 473.1V477.1M575.2 473.1V477.1M573.1 474.1L575.2 477.1M577.1 472.1H580.8M578.0 475.1H580.1M577.1 476.1H580.8M577.9 472.1V476.3M578.6 472.1V477.1M576.5 472.1V477.1M582.6 472.1H586.3M582.0 474.1H585.6M582.0 475.1H586.3M582.0 476.1H586.3M582.0 477.1H585.6M582.0 473.6V476.3M583.4 472.1V476.3M584.1 474.1L586.3 477.1M589.0 473.1H591.8M587.5 475.1H591.1M589.0 477.1H591.8M589.6 473.1V477.1M588.9 473.1V476.3M590.4 473.6V476.3M593.0 472.1H597.3M593.7 473.1H596.7M594.5 474.1H597.3M593.0 476.1H597.3M593.0 477.1H596.2M595.2 472.1V476.3M593.0 473.1V476.3M595.2 474.1L593.0 477.1M595.2 474.1L597.3 477.1" stroke="#686868" stroke-width="0.70" fill="none"/>
<text transform="translate(598.4 474.6) scale(0.78 1)" font-size="6.40" fill="#686868" text-anchor="start" dominant-baseline="central" font-family="'Liberation Sans', sans-serif" font-weight="normal" font-style="normal" stroke="#686868" stroke-width="0.22" >5cm</text>
<path d="M610.1 472.1H612.8M610.1 475.1H613.4M610.1 477.1H613.4M613.4 473.1V476.3M612.1 473.1V477.1M611.5 474.1L609.5 477.1M615.9 472.1H618.5M614.6 473.1H617.9M614.6 474.1H617.5M614.6 477.1H618.5M614.6 473.6V476.3M615.9 472.1V477.1M616.5 474.1L614.6 477.1M616.5 474.1L618.5 477.1M619.6 473.1H622.6M621.0 475.1H623.0M619.6 477.1H623.6M621.6 473.6V477.1M623.6 473.1V477.1M622.3 472.1V476.3M621.6 474.1L623.6 477.1M626.1 472.1H628.6M624.7 474.1H628.0M626.1 475.1H627.6M625.3 476.1H628.6M626.1 477.1H628.6M627.3 472.1V476.3M624.7 473.6V477.1M626.7 474.1L624.7 477.1M630.3 475.1H633.1M631.1 476.1H633.7M631.1 477.1H633.7M629.8 472.1V476.3M631.7 473.6V476.3M634.8 473.1H637.8M635.4 474.1H638.2M634.8 477.1H638.8M637.5 473.6V476.3M636.8 473.1V476.3M638.8 472.1V477.1M636.8 474.1L634.8 477.1M640.5 472.1H643.8M639.9 474.1H642.8M639.9 475.1H643.8M640.5 477.1H643.2M643.8 472.1V476.3M639.9 473.1V477.1M641.2 473.6V476.3M645.0 472.1H648.9M645.0 474.1H647.9M645.5 476.1H648.9M645.0 477.1H648.9M646.3 473.1V477.1M647.6 473.1V476.3M646.9 474.1L645.0 477.1M651.4 472.1H653.4M650.0 474.1H653.4M651.4 476.1H654.0M650.6 477.1H653.4M652.0 472.1V477.1M650.0 473.6V477.1M652.0 474.1L654.0 477.1M655.1 472.1H658.0M656.5 474.1H659.0M655.1 475.1H658.4M655.7 476.1H658.0M655.7 477.1H658.0M659.0 472.1V476.3M656.4 472.1V477.1M655.1 473.6V477.1M657.1 474.1L655.1 477.1M660.2 472.1H664.1M660.7 473.1H663.1M660.2 474.1H664.1M660.2 475.1H663.5M660.7 477.1H664.1M662.8 472.1V477.1M662.1 472.1V477.1M662.1 474.1L660.2 477.1M662.1 474.1L664.1 477.1M665.2 472.1H668.2M665.2 473.1H668.6M666.6 476.1H668.6M666.5 473.6V476.3M667.9 472.1V477.1M667.2 474.1L665.2 477.1M670.3 472.1H674.2M670.3 473.1H673.6M670.3 474.1H674.2M671.7 475.1H673.2M671.7 477.1H673.2M671.6 472.1V477.1M672.9 473.1V476.3M674.2 472.1V476.3M676.7 472.1H678.3M676.7 473.1H678.3M675.4 474.1H679.3M675.4 476.1H678.7M675.4 473.1V477.1M679.3 473.6V477.1M680.4 472.1H683.4M680.4 474.1H684.4M680.4 475.1H684.4M681.0 477.1H683.4M681.7 472.1V476.3M682.4 473.1V477.1M682.4 474.1L684.4 477.1" stroke="#686868" stroke-width="0.70" fill="none"/>
<text transform="translate(685.4 474.6) scale(0.78 1)" font-size="6.40" fill="#686868" text-anchor="start" dominant-baseline="central" font-family="'Liberation Sans', sans-serif" font-weight="normal" font-style="normal" stroke="#686868" stroke-width="0.22" >1~3cm.</text>
<g opacity="0.6">
<clipPath id="redclip"><path d="M200 190 L249.4 190 L292.9 263.6 L345 263.6 L345 300 L200 300 Z"/></clipPath>
<ellipse cx="281" cy="242.4" rx="59" ry="40.3" fill="#f75757" clip-path="url(#redclip)"/>
<path d="M270.6 201.5 L276.6 201.5 L303.2 248.1 L341.2 247.8 L340.2 252.6 L299.9 252.6 Z" fill="#555555"/>
<path d="M291 201.6 C 312 203.5, 338 214, 341.2 234 L341.2 237.8 L311.6 237.8 Z" fill="#5858d5"/>
<text x="347.3" y="207.6" font-size="13" fill="#444" text-anchor="middle" dominant-baseline="central" font-family="'Liberation Sans', sans-serif">R</text>
<text x="346.4" y="277.4" font-size="28.5" fill="#4a4a4a" font-family="'Liberation Serif', serif" font-style="italic" textLength="146" lengthAdjust="spacingAndGlyphs">Li cheng</text>
<text x="347.15" y="277.4" font-size="28.5" fill="#4a4a4a" font-family="'Liberation Serif', serif" font-style="italic" textLength="146" lengthAdjust="spacingAndGlyphs">Li cheng</text>
<text x="347.9" y="277.4" font-size="28.5" fill="#4a4a4a" font-family="'Liberation Serif', serif" font-style="italic" textLength="146" lengthAdjust="spacingAndGlyphs">Li cheng</text>
<path d="M369.5 224.2 Q373 221.6 380 221.6 L419.6 221.6" stroke="#303030" stroke-width="5.1" fill="none" stroke-linecap="round" stroke-linejoin="round"/>
<path d="M379.6 228.2 L393.4 228.2" stroke="#303030" stroke-width="3.5999999999999996" fill="none" stroke-linecap="round" stroke-linejoin="round"/>
<path d="M379.8 228 Q380 240 371.6 247.4" stroke="#303030" stroke-width="4.5" fill="none" stroke-linecap="round" stroke-linejoin="round"/>
<path d="M392.6 228 L392.6 249.6 L390.2 248.6" stroke="#303030" stroke-width="4.199999999999999" fill="none" stroke-linecap="round" stroke-linejoin="round"/>
<path d="M385.2 233.6 L386.8 239.2" stroke="#303030" stroke-width="3.5999999999999996" fill="none" stroke-linecap="round" stroke-linejoin="round"/>
<path d="M399.4 228 L399.4 249" stroke="#303030" stroke-width="4.199999999999999" fill="none" stroke-linecap="round" stroke-linejoin="round"/>
<path d="M399.4 228.2 L412.6 228.2" stroke="#303030" stroke-width="3.5999999999999996" fill="none" stroke-linecap="round" stroke-linejoin="round"/>
<path d="M411.8 228 L411.8 250.2 L409.2 249" stroke="#303030" stroke-width="4.199999999999999" fill="none" stroke-linecap="round" stroke-linejoin="round"/>
<path d="M405.4 233.6 L406.8 240" stroke="#303030" stroke-width="3.5999999999999996" fill="none" stroke-linecap="round" stroke-linejoin="round"/>
<path d="M427.4 230.2 L440.6 228.8" stroke="#303030" stroke-width="4.199999999999999" fill="none" stroke-linecap="round" stroke-linejoin="round"/>
<path d="M434.8 219.8 L434.8 242.4" stroke="#303030" stroke-width="4.5" fill="none" stroke-linecap="round" stroke-linejoin="round"/>
<path d="M426.2 244.4 Q434 243 441.6 239.2" stroke="#303030" stroke-width="4.199999999999999" fill="none" stroke-linecap="round" stroke-linejoin="round"/>
<path d="M443.4 228.6 L468.6 226" stroke="#303030" stroke-width="4.199999999999999" fill="none" stroke-linecap="round" stroke-linejoin="round"/>
<path d="M445.8 228.8 Q446.4 240 441.8 247.6" stroke="#303030" stroke-width="4.199999999999999" fill="none" stroke-linecap="round" stroke-linejoin="round"/>
<path d="M448.6 234.4 L456 234 L455.2 241.6 L453.4 241" stroke="#303030" stroke-width="3.3000000000000003" fill="none" stroke-linecap="round" stroke-linejoin="round"/>
<path d="M457.2 219.6 Q459.6 236 475.6 247.2 L476.6 243.6" stroke="#303030" stroke-width="4.800000000000001" fill="none" stroke-linecap="round" stroke-linejoin="round"/>
<path d="M469.8 230.6 Q464 242 451.6 249.2" stroke="#303030" stroke-width="4.199999999999999" fill="none" stroke-linecap="round" stroke-linejoin="round"/>
<path d="M464.8 220.2 L467.8 222.6" stroke="#303030" stroke-width="3.9000000000000004" fill="none" stroke-linecap="round" stroke-linejoin="round"/>
</g>
</g>
</svg>
</body></html>
